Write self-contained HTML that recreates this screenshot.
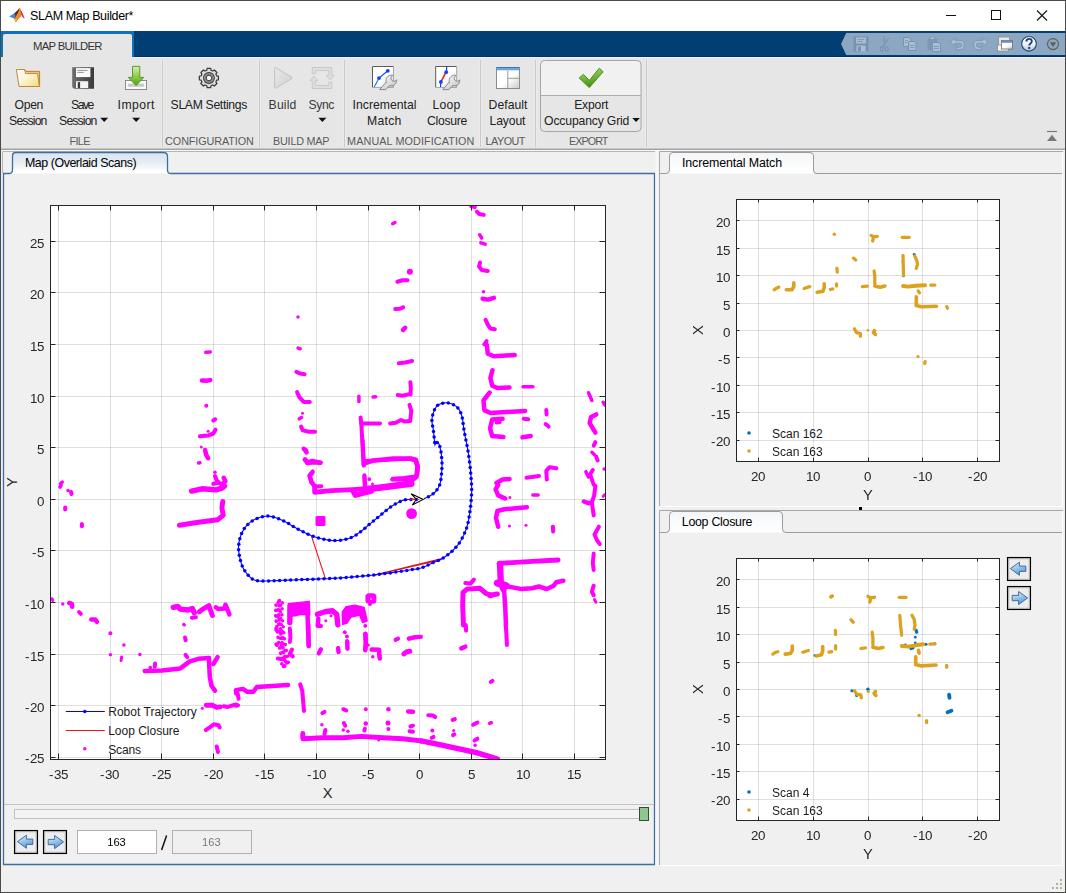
<!DOCTYPE html>
<html><head><meta charset="utf-8"><title>SLAM Map Builder</title>
<style>
html,body{margin:0;padding:0;}
body{width:1066px;height:893px;overflow:hidden;background:#f0f0f0;font-family:"Liberation Sans",sans-serif;position:relative;color:#1a1a1a;}
.abs{position:absolute;}
.t{position:absolute;white-space:nowrap;line-height:1;}
.g{will-change:transform;}
#titlebar{left:0;top:0;width:1066px;height:31px;background:#fff;}
#blue{left:0;top:31px;width:1066px;height:26px;background:#003e73;box-shadow:inset 0 -1px 0 #00336a;}
#blueline{left:1px;top:31px;width:133px;height:26px;background:#0b72bd;}
#maptab{left:3px;top:34px;width:129px;height:23px;background:#e6e6e6;border-radius:2px 2px 0 0;}
#strip{left:0;top:57px;width:1066px;height:91px;background:#e6e6e6;}
.lbl{position:absolute;white-space:nowrap;font-size:12.6px;line-height:16px;text-align:center;color:#222;letter-spacing:-0.1px;}
.sec{position:absolute;white-space:nowrap;font-size:11.4px;line-height:12px;text-align:center;color:#555;top:135px;letter-spacing:0.15px;}
.vsep{position:absolute;top:60px;width:1px;height:87px;background:#c9c9c9;box-shadow:1px 0 0 #ebebeb,-1px 0 0 #ebebeb;}
.tick{position:absolute;white-space:nowrap;font-size:13.3px;line-height:14px;color:#262626;}
</style></head><body>
<div id="titlebar" class="abs"></div>
<div class="t" style="left:30.10px;top:10.12px;font-size:12.5px;letter-spacing:-0.361px;color:#000;font-weight:400;">SLAM Map Builder*</div>
<div id="blue" class="abs"></div><div id="blueline" class="abs"></div><div id="maptab" class="abs"></div>
<div class="t" style="left:33.10px;top:41.43px;font-size:11.3px;letter-spacing:-0.709px;color:#333;font-weight:400;">MAP BUILDER</div>
<div id="strip" class="abs"></div>
<div class="abs" style="left:134px;top:57px;width:931px;height:1px;background:#f4f2f0"></div>
<div class="abs" style="left:0;top:148px;width:1066px;height:1px;background:#c8c8c8"></div>
<div class="abs" style="left:0;top:149px;width:1066px;height:1px;background:#a0a0a0"></div>
<div class="abs" style="left:0;top:150px;width:1066px;height:1px;background:#fafafa"></div>
<div class="t" style="left:14.60px;top:98.67px;font-size:12.2px;letter-spacing:-0.343px;color:#222;font-weight:400;">Open</div>
<div class="t" style="left:9.10px;top:114.67px;font-size:12.2px;letter-spacing:-0.843px;color:#222;font-weight:400;">Session</div>
<div class="t" style="left:71.10px;top:98.67px;font-size:12.2px;letter-spacing:-1.494px;color:#222;font-weight:400;">Save</div>
<div class="t" style="left:59.10px;top:114.67px;font-size:12.2px;letter-spacing:-0.843px;color:#222;font-weight:400;">Session</div>
<div class="t" style="left:117.60px;top:98.67px;font-size:12.2px;letter-spacing:0.451px;color:#222;font-weight:400;">Import</div>
<div class="t" style="left:170.60px;top:98.67px;font-size:12.2px;letter-spacing:-0.319px;color:#222;font-weight:400;">SLAM Settings</div>
<div class="t" style="left:268.60px;top:98.67px;font-size:12.2px;letter-spacing:0.173px;color:#3a3a3a;font-weight:400;">Build</div>
<div class="t" style="left:308.60px;top:98.67px;font-size:12.2px;letter-spacing:-0.436px;color:#3a3a3a;font-weight:400;">Sync</div>
<div class="t" style="left:352.60px;top:98.67px;font-size:12.2px;letter-spacing:0.011px;color:#222;font-weight:400;">Incremental</div>
<div class="t" style="left:367.10px;top:114.67px;font-size:12.2px;letter-spacing:0.274px;color:#222;font-weight:400;">Match</div>
<div class="t" style="left:432.60px;top:98.67px;font-size:12.2px;letter-spacing:0.225px;color:#222;font-weight:400;">Loop</div>
<div class="t" style="left:427.10px;top:114.67px;font-size:12.2px;letter-spacing:-0.283px;color:#222;font-weight:400;">Closure</div>
<div class="t" style="left:488.60px;top:98.67px;font-size:12.2px;letter-spacing:0.029px;color:#222;font-weight:400;">Default</div>
<div class="t" style="left:489.60px;top:114.67px;font-size:12.2px;letter-spacing:-0.159px;color:#222;font-weight:400;">Layout</div>
<div class="t" style="left:574.20px;top:98.67px;font-size:12.2px;letter-spacing:-0.207px;color:#222;font-weight:400;">Export</div>
<div class="t" style="left:544.10px;top:114.67px;font-size:12.2px;letter-spacing:-0.161px;color:#222;font-weight:400;">Occupancy Grid</div>
<div class="t" style="left:69.60px;top:136.36px;font-size:10.8px;letter-spacing:-0.671px;color:#5a5a5a;font-weight:400;">FILE</div>
<div class="t" style="left:165.10px;top:136.36px;font-size:10.8px;letter-spacing:-0.082px;color:#5a5a5a;font-weight:400;">CONFIGURATION</div>
<div class="t" style="left:273.10px;top:136.36px;font-size:10.8px;letter-spacing:-0.238px;color:#5a5a5a;font-weight:400;">BUILD MAP</div>
<div class="t" style="left:347.10px;top:136.36px;font-size:10.8px;letter-spacing:0.107px;color:#5a5a5a;font-weight:400;">MANUAL MODIFICATION</div>
<div class="t" style="left:485.60px;top:136.36px;font-size:10.8px;letter-spacing:-0.521px;color:#5a5a5a;font-weight:400;">LAYOUT</div>
<div class="t" style="left:569.10px;top:136.36px;font-size:10.8px;letter-spacing:-0.981px;color:#5a5a5a;font-weight:400;">EXPORT</div>
<div class="vsep" style="left:162px"></div>
<div class="vsep" style="left:259px"></div>
<div class="vsep" style="left:344px"></div>
<div class="vsep" style="left:480px"></div>
<div class="vsep" style="left:535px"></div>
<div class="vsep" style="left:646px"></div>
<svg class="abs" style="left:0;top:0" width="1066" height="893" viewBox="0 0 1066 893">
<defs>
<linearGradient id="gfold" x1="0" y1="0" x2="1" y2="1"><stop offset="0" stop-color="#ffffff"/><stop offset="0.45" stop-color="#fdf6d8"/><stop offset="1" stop-color="#f3d877"/></linearGradient>
<linearGradient id="gflop" x1="0" y1="0" x2="1" y2="0"><stop offset="0" stop-color="#6e6e6e"/><stop offset="0.5" stop-color="#555"/><stop offset="1" stop-color="#3a3a3a"/></linearGradient>
<linearGradient id="ggreen" x1="0" y1="0" x2="0" y2="1"><stop offset="0" stop-color="#d4efb0"/><stop offset="0.5" stop-color="#8fd04a"/><stop offset="1" stop-color="#4f9e1c"/></linearGradient>
<linearGradient id="gchk" x1="0" y1="0" x2="0.3" y2="1"><stop offset="0" stop-color="#b4e070"/><stop offset="1" stop-color="#3f9412"/></linearGradient>
<linearGradient id="gpaper" x1="0" y1="0" x2="1" y2="1"><stop offset="0" stop-color="#ffffff"/><stop offset="0.55" stop-color="#ffffff"/><stop offset="1" stop-color="#c9c9c9"/></linearGradient>
<linearGradient id="gwr" x1="0" y1="0" x2="1" y2="1"><stop offset="0" stop-color="#f6f6f6"/><stop offset="1" stop-color="#c6c6c6"/></linearGradient>
<radialGradient id="ggear" cx="0.5" cy="0.5" r="0.5"><stop offset="0.3" stop-color="#f6f6f6"/><stop offset="0.42" stop-color="#4a4a4a"/><stop offset="0.55" stop-color="#6e6e6e"/><stop offset="0.72" stop-color="#9a9a9a"/><stop offset="0.86" stop-color="#555"/><stop offset="1" stop-color="#2e2e2e"/></radialGradient>
<linearGradient id="gplay" x1="0" y1="0" x2="1" y2="1"><stop offset="0" stop-color="#e9e9e9"/><stop offset="1" stop-color="#cfcfcf"/></linearGradient>
<linearGradient id="ghelp" x1="0" y1="0" x2="0" y2="1"><stop offset="0" stop-color="#ffffff"/><stop offset="0.55" stop-color="#eef3f9"/><stop offset="1" stop-color="#a9c0dc"/></linearGradient>
</defs>
<g><polygon points="9.1,16.6 14,13.5 17.8,10.3 19.2,8 17.5,13 15.5,16.5 14,18.6" fill="#3a8fd8"/><polygon points="14.6,13.2 17.8,10.3 19.5,7.4 19.2,11 17,15 15,18.8 14,18.4 15.5,16" fill="#6d2418"/><polygon points="19.5,7.4 20.6,9 22,14 21,16.5 18.5,19 15.7,22.4 14.3,19.3 17,15 19,10.5" fill="#e68a2a"/><polygon points="20.6,9.2 22.6,13.5 24.7,18.6 22.6,17.2 21.4,14.5" fill="#d61f3c"/><polygon points="14.4,19.4 17,17.8 15.7,22.4" fill="#e9bb34"/></g>
<path d="M946,15.5 H956" stroke="#111" stroke-width="1"/><rect x="991.5" y="10.5" width="9" height="9" fill="none" stroke="#111" stroke-width="1"/><path d="M1037,10.5 L1047,20.5 M1047,10.5 L1037,20.5" stroke="#111" stroke-width="1.1"/>
<polygon points="841,44.1 846.2,33 1065,33 1065,55 846.2,55" fill="#8ba7c1"/>
<g><rect x="853.5" y="36.5" width="15" height="15" fill="#7893af"/><rect x="856" y="37.5" width="10" height="6" fill="#a9bed2"/><rect x="856.5" y="45.5" width="9" height="6" fill="#a9bed2"/><rect x="858" y="46.5" width="3" height="5" fill="#7893af"/><path d="M857.5,39.5h7M857.5,41.5h5" stroke="#7893af" stroke-width="0.8"/></g>
<g stroke="#7893af" fill="none" stroke-width="1.1"><path d="M884.3,36.5 L884.6,46 M888.6,38 L882.5,47"/><ellipse cx="881.8" cy="49" rx="1.5" ry="2.3"/><ellipse cx="886.8" cy="49" rx="1.5" ry="2.3"/></g>
<g><path d="M903.5,37.5 h5.5 l2,2 v7 h-7.5 z" fill="#a9bed2" stroke="#7893af" stroke-width="1"/><path d="M908.5,41.5 h5.5 l2,2 v7 h-7.5 z" fill="#a9bed2" stroke="#7893af" stroke-width="1"/><path d="M910,45.5h4.5M910,47.5h4.5M905,40.5h3M905,42.5h2" stroke="#7893af" stroke-width="0.8"/></g>
<g><rect x="927.5" y="38.5" width="10" height="11.5" fill="#7893af" opacity="0.75"/><rect x="930.5" y="36.8" width="4" height="2.6" fill="#a9bed2" stroke="#7893af" stroke-width="0.8"/><path d="M932.5,42.5 h6 l2,2 v7 h-8 z" fill="#a9bed2" stroke="#7893af" stroke-width="1"/><path d="M934,46.5h5M934,48.5h5" stroke="#7893af" stroke-width="0.8"/></g>
<path d="M950,42 L955,37.8 V40.3 H960 Q964.3,40.3 964.3,44.8 Q964.3,49.8 960,49.8 H956.5 V47.2 H959.6 Q961.6,47.2 961.6,45 Q961.6,43.2 959.6,43.2 H955 V46 Z" fill="#a9bed2" stroke="#7893af" stroke-width="0.9" stroke-linejoin="round"/>
<path d="M988,42 L983,37.8 V40.3 H978 Q973.7,40.3 973.7,44.8 Q973.7,49.8 978,49.8 H981.5 V47.2 H978.4 Q976.4,47.2 976.4,45 Q976.4,43.2 978.4,43.2 H983 V46 Z" fill="#a9bed2" stroke="#7893af" stroke-width="0.9" stroke-linejoin="round"/>
<g><rect x="998.5" y="37" width="11" height="9" fill="#e8e8e8" stroke="#8a8a8a" stroke-width="0.8"/><rect x="997.5" y="45" width="11" height="6" fill="#f4f4f4" stroke="#8a8a8a" stroke-width="0.8"/><rect x="1001.5" y="40.5" width="11" height="8.5" fill="url(#gpaper)" stroke="#6a6a6a" stroke-width="0.8"/><rect x="1002" y="41" width="10" height="1.8" fill="#5b95d0"/></g>
<circle cx="1029" cy="43.8" r="7.3" fill="url(#ghelp)" stroke="#27466e" stroke-width="1.1"/><path d="M1026.4,41.6 Q1026.4,38.9 1029.1,38.9 Q1031.8,38.9 1031.8,41.3 Q1031.8,42.8 1030.3,43.7 Q1029.2,44.4 1029.2,45.6" fill="none" stroke="#1d3f73" stroke-width="1.9"/><rect x="1028.2" y="46.9" width="2" height="2" fill="#1d3f73"/>
<circle cx="1053" cy="44.1" r="5.5" fill="none" stroke="#5e5e5e" stroke-width="1.1"/><polygon points="1049.8,42.3 1056.2,42.3 1053,46.9" fill="#5e5e5e"/>
<path d="M1047,131.5 H1057" stroke="#787878" stroke-width="1.2"/><polygon points="1047,141 1057,141 1052,134.8" fill="#787878"/>
<path d="M24.7,69.4 L25.8,71.4 H39.6 V86.5 H36" fill="#e8c878" stroke="#b9812f" stroke-width="1"/><path d="M16.3,69.5 H24.6 L25.6,73.6 H37.6 L39.4,86.5 H19.1 Z" fill="url(#gfold)" stroke="#c08a3a" stroke-width="1" stroke-linejoin="round"/>
<path d="M72.2,67.2 H94 V88.8 H74 L72.2,87 Z" fill="url(#gflop)"/><rect x="76" y="68.1" width="14.4" height="9" fill="#fbfbfb"/><path d="M77.3,70.4h10.2M77.3,72.4h6.5" stroke="#8a8a8a" stroke-width="0.9"/><rect x="76" y="81.2" width="12.2" height="6.8" fill="#f4f4f4"/><rect x="77.8" y="82.1" width="2.3" height="5.9" fill="#3a3a3a"/>
<rect x="125.5" y="80.5" width="21" height="9" fill="#fafafa" stroke="#8c8c8c" stroke-width="1"/><rect x="127.8" y="83.6" width="16.4" height="3.2" fill="#c9c9c9"/><path d="M132.5,66.4 H139.8 V77.4 H143.8 L136.1,85.6 L128.3,77.4 H132.5 Z" fill="url(#ggreen)" stroke="#4e9422" stroke-width="0.9" stroke-linejoin="round"/>
<polygon points="216.61,75.87 218.43,76.17 218.43,79.83 216.61,80.13 215.86,81.94 216.93,83.44 214.34,86.03 212.84,84.96 211.03,85.71 210.73,87.53 207.07,87.53 206.77,85.71 204.96,84.96 203.46,86.03 200.87,83.44 201.94,81.94 201.19,80.13 199.37,79.83 199.37,76.17 201.19,75.87 201.94,74.06 200.87,72.56 203.46,69.97 204.96,71.04 206.77,70.29 207.07,68.47 210.73,68.47 211.03,70.29 212.84,71.04 214.34,69.97 216.93,72.56 215.86,74.06" fill="#dedede" stroke="#3c3c3c" stroke-width="1.25" stroke-linejoin="round"/><circle cx="208.9" cy="78" r="5.9" fill="url(#ggear)"/>
<path d="M274.6,68.4 Q274.6,67 275.9,67.8 L291.9,77.2 Q292.9,77.9 291.9,78.6 L275.9,88.1 Q274.6,88.9 274.6,87.5 Z" fill="url(#gplay)" stroke="#c2c2c2" stroke-width="1"/>
<path d="M312.3,73.6 V67.5 H331.8 V75.2 H333.9 L330.2,79.9 L326.5,75.2 H328.8 V70.5 H315.3 V73.6 Z" fill="#dedede" stroke="#c6c6c6" stroke-width="0.9"/><path d="M331.8,82.1 V88.5 H312.3 V80.7 H310.1 L313.9,76 L317.7,80.7 H315.3 V85.5 H328.8 V82.1 Z" fill="#dedede" stroke="#c6c6c6" stroke-width="0.9"/>
<rect x="372.5" y="66.5" width="21" height="21" fill="url(#gpaper)"/><path d="M372.5,87.5 V66.5 H393.5" fill="none" stroke="#5a5a5a" stroke-width="1"/><path d="M393.5,66.5 V87.5 H372.5" fill="none" stroke="#a9a9a9" stroke-width="1"/><path d="M374.2,87 L379,78.1" stroke="#2f7fe6" stroke-width="1.2"/><path d="M379,78.1 L387.8,70.8" stroke="#1044ee" stroke-width="1.2"/><circle cx="379" cy="78.1" r="1.9" fill="#1044ee"/><circle cx="387.8" cy="70.8" r="1.9" fill="#1044ee"/><path d="M379.6,89.6 L386.6,81.6 L390.2,85.2 L385.6,89.6 Z" fill="url(#gwr)" stroke="#7e7e7e" stroke-width="0.9" stroke-linejoin="round"/><path d="M396.55,79.79 L396.60,80.70 L396.48,81.61 L396.22,82.48 L395.81,83.29 L395.27,84.02 L394.61,84.64 L393.85,85.15 L393.02,85.51 L392.13,85.73 L391.23,85.80 L390.32,85.71 L389.45,85.47 L388.62,85.08 L387.88,84.55 L387.24,83.91 L386.72,83.16 L386.33,82.34 L386.09,81.46 L386.00,80.56 L386.07,79.65 L386.29,78.77 L386.66,77.94 L387.17,77.18 L387.79,76.53 L388.53,75.98 L389.34,75.58 L390.21,75.31 L391.11,75.20 L392.02,75.25 L392.91,75.45 L392.28,75.78 L391.74,76.25 L391.34,76.84 L391.08,77.50 L390.98,78.20 L391.06,78.91 L391.29,79.58 L391.68,80.18 L392.20,80.67 L392.82,81.02 L393.51,81.21 L394.22,81.24 L394.91,81.10 L395.56,80.80 L396.12,80.36Z" fill="url(#gwr)" stroke="#7e7e7e" stroke-width="0.9" stroke-linejoin="round"/><path d="M386.6,83.0 L389.0,85.4" stroke="#dedede" stroke-width="2.6"/>
<rect x="435.7" y="66.5" width="21" height="21" fill="url(#gpaper)"/><path d="M435.7,87.5 V66.5 H456.7" fill="none" stroke="#5a5a5a" stroke-width="1"/><path d="M456.7,66.5 V87.5 H435.7" fill="none" stroke="#a9a9a9" stroke-width="1"/><path d="M446.6,66.6 V72" stroke="#1044ee" stroke-width="1.2"/><path d="M446.1,72.2 L440.9,81.9" stroke="#f01818" stroke-width="1.5"/><path d="M440.8,82 L440.5,87" stroke="#1044ee" stroke-width="1.2"/><circle cx="446.2" cy="72.2" r="1.9" fill="#1044ee"/><circle cx="440.9" cy="81.9" r="1.9" fill="#1044ee"/><path d="M442.8,89.6 L449.8,81.6 L453.4,85.2 L448.8,89.6 Z" fill="url(#gwr)" stroke="#7e7e7e" stroke-width="0.9" stroke-linejoin="round"/><path d="M459.75,79.79 L459.80,80.70 L459.68,81.61 L459.42,82.48 L459.01,83.29 L458.47,84.02 L457.81,84.64 L457.05,85.15 L456.22,85.51 L455.33,85.73 L454.43,85.80 L453.52,85.71 L452.65,85.47 L451.82,85.08 L451.08,84.55 L450.44,83.91 L449.92,83.16 L449.53,82.34 L449.29,81.46 L449.20,80.56 L449.27,79.65 L449.49,78.77 L449.86,77.94 L450.37,77.18 L450.99,76.53 L451.73,75.98 L452.54,75.58 L453.41,75.31 L454.31,75.20 L455.22,75.25 L456.11,75.45 L455.48,75.78 L454.94,76.25 L454.54,76.84 L454.28,77.50 L454.18,78.20 L454.26,78.91 L454.49,79.58 L454.88,80.18 L455.40,80.67 L456.02,81.02 L456.71,81.21 L457.42,81.24 L458.11,81.10 L458.76,80.80 L459.32,80.36Z" fill="url(#gwr)" stroke="#7e7e7e" stroke-width="0.9" stroke-linejoin="round"/><path d="M449.8,83.0 L452.2,85.4" stroke="#dedede" stroke-width="2.6"/>
<rect x="496.5" y="67.5" width="23" height="21" fill="url(#gpaper)" stroke="#8c8c8c" stroke-width="1"/><rect x="497" y="68" width="22" height="2.3" fill="#6ea6dc"/><path d="M496.5,67.5H519.5" stroke="#3f76b6" stroke-width="1"/><path d="M507.8,70.5V88M507.8,78.3H519.5" stroke="#9a9a9a" stroke-width="1"/>
<path d="M540.5,95 V64.5 Q540.5,60.5 544.5,60.5 H637 Q641,60.5 641,64.5 V95 Z" fill="#f1f1f1"/><rect x="540.5" y="60.5" width="100.5" height="71" rx="4" ry="4" fill="none" stroke="#a6a6a6" stroke-width="1"/><path d="M541,95.5H641" stroke="#adadad" stroke-width="1"/><polygon points="579.2,78 583.4,74.4 589.3,80.4 599.3,68.2 603.1,71.8 589.3,87.6" fill="url(#gchk)" stroke="#3c8414" stroke-width="0.9" stroke-linejoin="round"/>
<polygon points="100.2,117.8 108.2,117.8 104.2,122" fill="#111"/><polygon points="132.2,117.8 140.2,117.8 136.2,122" fill="#111"/><polygon points="318.4,117.8 326.4,117.8 322.4,122" fill="#111"/><polygon points="632.3,118 639.9,118 636.1,121.9" fill="#111"/>
</svg>
<svg class="abs" style="left:0;top:0" width="1066" height="893" viewBox="0 0 1066 893">
<defs>
<linearGradient id="tabb" x1="0" y1="0" x2="0" y2="1"><stop offset="0" stop-color="#dbe5ee"/><stop offset="0.45" stop-color="#e4ecf3"/><stop offset="0.9" stop-color="#ffffff"/></linearGradient>
<linearGradient id="tabg" x1="0" y1="0" x2="0" y2="1"><stop offset="0" stop-color="#f3f5f8"/><stop offset="0.6" stop-color="#fbfcfd"/><stop offset="1" stop-color="#ffffff"/></linearGradient>
</defs>
<rect x="0" y="0" width="1066" height="1" fill="#4a4a4a"/><rect x="0" y="0" width="1" height="893" fill="#4a4a4a"/><rect x="1065" y="0" width="1" height="893" fill="#4a4a4a"/><rect x="0" y="892" width="1066" height="1" fill="#4a4a4a"/>
<path d="M2.5,173 V151.5 H655" fill="none" stroke="#b4b4b4" stroke-width="1"/>
<path d="M12.5,173.5 V156 Q12.5,152.5 16,152.5 H163.5 Q167.5,152.5 167.5,156.5 V173.5 Z" fill="url(#tabb)" stroke="none"/>
<path d="M3.5,173.5 H9 Q12.5,173.5 12.5,170 V156 Q12.5,152.5 16,152.5 H163.5 Q167.5,152.5 167.5,156.5 V170 Q167.5,173.5 171,173.5 H654.5 V864.5 H3.5 Z" fill="none" stroke="#3a6ea5" stroke-width="1.3"/>
<rect x="655.5" y="151" width="3" height="715" fill="#f6f6f6"/>
<path d="M659.5,506 V151.5 H1063" fill="none" stroke="#a8a8a8" stroke-width="1"/>
<path d="M1062.5,152 V506.5 H660" fill="none" stroke="#ffffff" stroke-width="1"/>
<path d="M669.5,173.5 V156 Q669.5,152.5 673,152.5 H810 Q813.5,152.5 813.5,156 V173.5 Z" fill="url(#tabg)"/>
<path d="M660,173.5 H666 Q669.5,173.5 669.5,170 V156 Q669.5,152.5 673,152.5 H810 Q813.5,152.5 813.5,156 V170 Q813.5,173.5 817,173.5 H1062" fill="none" stroke="#9c9c9c" stroke-width="1"/>
<path d="M659.5,865 V510.5 H1063" fill="none" stroke="#a8a8a8" stroke-width="1"/>
<path d="M1062.5,511 V865.5 H660" fill="none" stroke="#ffffff" stroke-width="1"/>
<path d="M669.5,532.5 V515 Q669.5,511.5 673,511.5 H779 Q782.5,511.5 782.5,515 V532.5 Z" fill="url(#tabg)"/>
<path d="M660,532.5 H666 Q669.5,532.5 669.5,529 V515 Q669.5,511.5 673,511.5 H779 Q782.5,511.5 782.5,515 V529 Q782.5,532.5 786,532.5 H1062" fill="none" stroke="#9c9c9c" stroke-width="1"/>
<rect x="859" y="507" width="3" height="3" fill="#000"/>
<rect x="1060" y="879" width="2" height="2" fill="#b8b09a"/><rect x="1056" y="883" width="2" height="2" fill="#b8b09a"/><rect x="1060" y="883" width="2" height="2" fill="#b8b09a"/><rect x="1052" y="887" width="2" height="2" fill="#b8b09a"/><rect x="1056" y="887" width="2" height="2" fill="#b8b09a"/><rect x="1060" y="887" width="2" height="2" fill="#b8b09a"/>
</svg>
<div class="t" style="left:24.90px;top:156.50px;font-size:12.4px;letter-spacing:-0.428px;color:#000;font-weight:400;">Map (Overlaid Scans)</div>
<div class="t" style="left:682.00px;top:156.50px;font-size:12.4px;letter-spacing:-0.114px;color:#000;font-weight:400;">Incremental Match</div>
<div class="t" style="left:681.80px;top:515.50px;font-size:12.4px;letter-spacing:-0.282px;color:#000;font-weight:400;">Loop Closure</div>
<svg class="abs" style="left:0;top:0" width="1066" height="893" viewBox="0 0 1066 893">
<defs><clipPath id="cm"><rect x="51" y="206" width="554" height="553"/></clipPath></defs>
<rect x="50" y="205" width="555" height="554" fill="#fff"/>
<path d="M58.5,205V759M110.5,205V759M161.5,205V759M213.5,205V759M264.5,205V759M316.5,205V759M368.5,205V759M419.5,205V759M471.5,205V759M522.5,205V759M574.5,205V759" stroke="#262626" stroke-opacity="0.15" stroke-width="1" fill="none"/><path d="M50,757.5H605M50,705.5H605M50,654.5H605M50,602.5H605M50,550.5H605M50,499.5H605M50,447.5H605M50,396.5H605M50,344.5H605M50,292.5H605M50,241.5H605" stroke="#262626" stroke-opacity="0.15" stroke-width="1" fill="none"/>
<g clip-path="url(#cm)">
<g stroke="#ff00ff" fill="none" stroke-linecap="round" stroke-linejoin="round">
<path d="M392.7,223.7 L395.0,222.5" stroke-width="3.50"/><circle cx="409.9" cy="271.8" r="3.00" fill="#ff00ff" stroke="none"/><path d="M397.4,281.7 L402.3,280.3 L407.5,280.3" stroke-width="4.05"/><path d="M395.3,309.1 L400.0,308.8 L403.1,307.4" stroke-width="4.00"/><path d="M403.0,330.0 L405.2,327.9" stroke-width="4.50"/><circle cx="298.0" cy="316.9" r="1.75" fill="#ff00ff" stroke="none"/>
<path d="M471.3,206.4 L474.8,207.1" stroke-width="4.00"/><path d="M476.9,211.6 L479.1,214.0 L483.8,214.9" stroke-width="4.00"/><path d="M479.7,234.8 L481.7,238.0" stroke-width="3.50"/><path d="M480.9,242.8 L485.2,244.2" stroke-width="3.50"/><path d="M480.0,262.6 L479.1,266.6 L481.7,269.9 L487.8,270.9" stroke-width="4.05"/><circle cx="483.5" cy="291.8" r="1.75" fill="#ff00ff" stroke="none"/><path d="M482.6,298.7 L487.8,299.6 L493.9,297.8" stroke-width="4.50"/><path d="M485.6,319.9 L487.8,324.7 L490.4,328.6 L494.8,329.3" stroke-width="4.05"/><path d="M484.3,344.4 L486.6,341.2" stroke-width="4.00"/>
<path d="M205.8,352.3 L210.3,351.9" stroke-width="3.50"/><path d="M202.0,380.6 L206.3,380.8 L210.3,380.1" stroke-width="4.50"/><circle cx="206.3" cy="405.7" r="2.00" fill="#ff00ff" stroke="none"/><path d="M213.3,420.5 L215.2,419.3" stroke-width="4.05"/><path d="M199.9,436.3 L208.1,435.6 L213.3,433.5 L215.5,429.7" stroke-width="4.05"/><circle cx="208.1" cy="431.3" r="1.50" fill="#ff00ff" stroke="none"/><circle cx="201.3" cy="446.9" r="1.50" fill="#ff00ff" stroke="none"/><path d="M205.1,450.0 L206.3,455.2 L208.1,458.2" stroke-width="4.50"/><path d="M198.5,463.0 L199.9,462.7" stroke-width="3.50"/><circle cx="215.0" cy="472.2" r="1.75" fill="#ff00ff" stroke="none"/><path d="M215.0,476.0 L216.7,480.4 L220.2,483.8" stroke-width="4.00"/><path d="M223.7,477.8 L225.4,481.2 L221.9,484.7" stroke-width="4.50"/><path d="M213.3,483.8 L217.6,483.0" stroke-width="4.00"/><path d="M60.5,483.8 L62.3,482.1" stroke-width="3.50"/>
<path d="M298.1,348.1 L300.2,348.8" stroke-width="3.50"/><path d="M296.4,371.9 L300.2,373.6 L304.6,374.2" stroke-width="4.00"/><path d="M297.1,392.2 L299.3,397.1 L303.7,401.9 L309.8,401.9" stroke-width="4.05"/><circle cx="302.5" cy="413.2" r="1.50" fill="#ff00ff" stroke="none"/><path d="M299.3,418.8 L301.6,417.5" stroke-width="3.50"/><path d="M301.1,426.6 L302.8,430.4 L308.9,431.8 L315.0,431.8" stroke-width="4.05"/><path d="M304.0,449.1 L306.3,452.3" stroke-width="4.00"/><path d="M305.4,459.5 L307.2,463.0 L314.1,462.3 L320.2,462.7" stroke-width="4.50"/><path d="M312.4,472.6 L309.8,476.0 L311.5,482.1 L314.1,485.1" stroke-width="4.50"/><path d="M358.9,396.2 L358.9,401.4" stroke-width="3.50"/><path d="M373.1,397.1 L375.7,396.7" stroke-width="3.50"/><path d="M360.6,417.5 L361.3,423.1 L363.6,464.7" stroke-width="4.00"/><path d="M361.3,423.4 L380.0,423.4" stroke-width="4.00"/><path d="M363.6,464.7 L365.3,460.9 L392.2,459.5 L409.5,458.7" stroke-width="4.00"/><path d="M409.5,458.7 L415.6,460.4 L417.4,466.5 L416.5,476.9 L413.0,479.5" stroke-width="4.50"/><path d="M413.0,479.5 L392.2,479.5" stroke-width="4.00"/><path d="M364.4,475.2 L365.3,485.1" stroke-width="4.00"/><circle cx="369.6" cy="479.5" r="1.50" fill="#ff00ff" stroke="none"/><path d="M398.8,363.2 L405.2,362.4 L412.1,361.0" stroke-width="4.05"/><path d="M410.4,382.3 L410.9,388.4 L410.4,394.5" stroke-width="4.00"/><path d="M397.7,395.0 L402.6,395.7 L410.4,393.9" stroke-width="4.00"/><path d="M409.5,404.9 L411.3,410.9 L410.4,419.6" stroke-width="4.00"/><path d="M390.1,423.4 L395.7,422.7 L400.9,420.0 L404.3,421.4 L410.4,421.0" stroke-width="4.00"/>
<path d="M486.9,345.0 L487.8,353.7 L493.9,356.3 L514.7,355.1" stroke-width="4.50"/><path d="M492.5,370.2 L490.4,378.0 L492.2,385.8 L497.4,388.0 L509.5,387.5" stroke-width="4.50"/><path d="M523.0,386.7 L532.9,386.7" stroke-width="3.50"/><path d="M489.6,392.7 L483.5,400.5 L484.3,410.1 L490.4,413.0 L525.1,410.9" stroke-width="4.50"/><path d="M502.6,418.8 L492.2,419.6 L490.1,428.3 L492.2,436.1 L503.4,437.0" stroke-width="4.50"/><path d="M496.5,422.7 L500.0,422.2" stroke-width="3.50"/><path d="M523.7,418.8 L528.3,419.3" stroke-width="4.00"/><path d="M522.5,437.3 L530.7,436.1" stroke-width="4.50"/><path d="M546.3,410.1 L546.6,414.4" stroke-width="4.00"/><path d="M545.6,424.0 L548.6,426.6" stroke-width="4.00"/><path d="M588.5,392.7 L591.9,400.5" stroke-width="3.50"/><path d="M603.2,402.3 L605.0,404.9" stroke-width="3.50"/><path d="M596.3,414.4 L591.1,417.0 L589.7,423.1 L592.8,428.3 L595.4,432.6" stroke-width="4.50"/><path d="M595.4,442.2 L593.7,445.7" stroke-width="4.00"/><path d="M591.9,452.3 L594.5,454.7" stroke-width="3.50"/><path d="M596.3,456.9 L597.7,460.4" stroke-width="4.00"/><circle cx="604.1" cy="469.1" r="1.75" fill="#ff00ff" stroke="none"/><path d="M592.8,470.0 L590.2,474.3 L591.9,479.5 L593.7,484.7" stroke-width="4.00"/><path d="M585.9,471.7 L588.5,476.9" stroke-width="3.50"/><path d="M556.4,468.2 L549.4,467.3 L546.3,470.8 L546.8,479.5" stroke-width="4.05"/><path d="M526.5,477.8 L532.1,476.9 L539.0,476.0" stroke-width="4.00"/><path d="M496.5,483.0 L502.6,479.5 L509.5,479.0" stroke-width="4.50"/>
<path d="M60.0,487.1 L61.1,485.3" stroke-width="3.50"/><circle cx="68.0" cy="490.6" r="1.75" fill="#ff00ff" stroke="none"/><path d="M71.0,491.9 L71.5,494.0" stroke-width="4.00"/><path d="M65.2,507.6 L65.2,509.6" stroke-width="4.00"/><path d="M81.9,524.0 L81.9,526.3" stroke-width="4.00"/><path d="M191.6,491.1 L202.0,488.8 L215.9,489.9 L221.9,488.1 L224.5,485.9" stroke-width="5.40"/><path d="M222.8,501.5 L221.9,507.6 L223.2,515.4 L217.6,519.7 L198.5,522.3 L179.4,525.3" stroke-width="4.95"/><circle cx="62.8" cy="603.9" r="1.75" fill="#ff00ff" stroke="none"/><path d="M69.2,603.0 L71.8,603.9 L72.2,606.8" stroke-width="4.50"/><path d="M79.1,612.0 L80.8,613.8" stroke-width="4.00"/><path d="M91.3,619.5 L95.3,619.5 L97.0,621.8" stroke-width="4.50"/><path d="M51.9,598.7 L52.7,600.4" stroke-width="3.00"/><path d="M173.3,607.3 L177.7,606.5 L180.3,609.1 L188.1,610.0 L192.4,608.6 L194.2,612.6" stroke-width="5.40"/><path d="M191.9,617.8 L195.9,617.2" stroke-width="4.00"/><path d="M199.4,611.7 L203.7,608.6 L208.9,605.6 L211.0,611.7 L212.4,615.5" stroke-width="4.95"/><path d="M215.9,607.3 L218.5,609.1 L224.5,608.6 L225.4,604.7 L227.7,610.0 L229.4,614.3" stroke-width="4.50"/><circle cx="183.8" cy="624.4" r="1.75" fill="#ff00ff" stroke="none"/>
<path d="M498.2,485.0 L495.6,489.3 L498.2,495.4 L505.2,498.5" stroke-width="4.50"/><circle cx="509.9" cy="497.5" r="1.50" fill="#ff00ff" stroke="none"/><path d="M532.9,495.1 L538.1,495.1" stroke-width="3.50"/><path d="M526.9,507.2 L504.3,509.3 L497.4,511.0 L496.0,518.0 L498.2,526.7" stroke-width="4.50"/><circle cx="509.5" cy="526.1" r="1.50" fill="#ff00ff" stroke="none"/><circle cx="526.0" cy="525.3" r="1.50" fill="#ff00ff" stroke="none"/><path d="M552.9,526.7 L553.2,531.5" stroke-width="4.05"/><path d="M595.4,485.9 L594.2,495.4 L591.9,502.4 L592.8,509.3 L593.7,515.4" stroke-width="4.05"/><path d="M583.8,501.5 L588.5,503.2 L591.9,502.4" stroke-width="4.50"/><path d="M603.2,496.3 L605.0,494.5" stroke-width="3.00"/><path d="M598.9,526.7 L594.5,534.5 L597.1,540.5 L599.8,544.0" stroke-width="4.00"/><path d="M593.7,553.6 L592.8,563.1 L593.7,570.0" stroke-width="4.00"/><path d="M593.7,585.7 L591.9,591.7 L593.7,595.2" stroke-width="4.05"/><path d="M594.5,599.5 L595.9,602.1" stroke-width="3.00"/><path d="M558.1,560.0 L532.1,561.4 L499.1,563.4" stroke-width="4.95"/><path d="M500.0,564.0 L500.8,582.2 L503.4,589.1" stroke-width="6.30"/><path d="M497.4,583.1 L506.0,585.7" stroke-width="7.20"/><path d="M504.0,589.1 L505.2,606.5 L506.0,625.1" stroke-width="4.50"/><path d="M507.8,586.5 L521.7,589.1 L532.1,588.3 L539.0,586.5 L546.8,589.1 L553.8,585.7 L556.4,582.2 L563.3,580.8" stroke-width="4.50"/><path d="M465.3,583.1 L470.5,583.6 L473.9,579.6" stroke-width="4.00"/><path d="M463.5,625.1 L462.7,606.5 L463.0,592.6 L467.0,589.1 L480.0,588.3 L486.1,593.5 L490.4,595.2 L497.4,594.0" stroke-width="4.95"/><circle cx="490.4" cy="595.2" r="3.00" fill="#ff00ff" stroke="none"/>
<circle cx="110.4" cy="633.3" r="2.00" fill="#ff00ff" stroke="none"/><circle cx="123.9" cy="645.0" r="1.75" fill="#ff00ff" stroke="none"/><circle cx="110.4" cy="654.8" r="1.75" fill="#ff00ff" stroke="none"/><path d="M121.6,657.1 L121.1,660.6" stroke-width="3.00"/><circle cx="139.9" cy="654.5" r="1.75" fill="#ff00ff" stroke="none"/><circle cx="184.3" cy="625.0" r="1.50" fill="#ff00ff" stroke="none"/><path d="M185.0,637.5 L185.7,640.3" stroke-width="4.00"/><path d="M185.5,654.8 L187.2,657.1" stroke-width="4.00"/><path d="M155.1,663.5 L154.8,666.7" stroke-width="4.00"/><path d="M144.7,671.0 L162.1,670.5 L180.3,668.4 L189.8,661.4 L198.5,658.8 L208.9,658.0" stroke-width="4.50"/><circle cx="150.3" cy="667.5" r="1.75" fill="#ff00ff" stroke="none"/><path d="M208.9,658.0 L209.8,677.1 L211.5,685.7 L215.0,690.6" stroke-width="4.50"/><path d="M217.6,657.1 L215.0,661.4 L213.3,664.0" stroke-width="4.50"/><path d="M235.3,690.1 L235.7,694.1" stroke-width="3.00"/><circle cx="202.3" cy="708.3" r="1.50" fill="#ff00ff" stroke="none"/><path d="M206.3,705.2 L212.4,705.2 L216.7,707.4 L220.2,706.9" stroke-width="4.95"/><path d="M223.7,706.2 L228.0,706.9 L233.2,705.2 L236.0,704.5" stroke-width="4.05"/><path d="M205.8,730.0 L209.8,727.4 L213.8,724.3 L218.5,725.3 L219.7,727.4" stroke-width="4.05"/><path d="M216.7,746.5 L218.0,752.0" stroke-width="4.00"/>
<path d="M308.5,625.0 L308.5,645.8" stroke-width="4.05"/><path d="M317.6,625.9 L321.0,625.9" stroke-width="4.00"/><circle cx="337.5" cy="625.5" r="1.75" fill="#ff00ff" stroke="none"/><circle cx="365.3" cy="625.9" r="1.75" fill="#ff00ff" stroke="none"/><circle cx="345.0" cy="632.3" r="1.75" fill="#ff00ff" stroke="none"/><circle cx="347.1" cy="636.8" r="1.75" fill="#ff00ff" stroke="none"/><path d="M347.1,641.0 L347.4,648.4" stroke-width="4.00"/><path d="M365.3,633.7 L365.8,642.4 L365.3,650.2" stroke-width="4.50"/><path d="M321.0,649.3 L319.0,653.1" stroke-width="4.05"/><path d="M338.0,648.4 L338.7,651.9" stroke-width="4.00"/><path d="M395.7,639.8 L398.3,638.5" stroke-width="3.50"/><path d="M408.7,638.5 L414.8,637.1 L421.0,636.8" stroke-width="4.00"/><path d="M236.0,690.1 L242.9,688.9 L247.3,691.8 L253.4,691.8 L256.8,687.1 L288.1,684.9" stroke-width="4.50"/><path d="M237.7,693.6 L238.6,698.8" stroke-width="4.00"/><path d="M236.0,705.7 L238.1,705.2" stroke-width="4.00"/><path d="M300.2,684.4 L302.3,690.9 L303.3,703.1 L304.0,710.9" stroke-width="4.05"/><path d="M322.4,713.2 L324.5,711.8" stroke-width="4.00"/><circle cx="321.9" cy="724.8" r="1.75" fill="#ff00ff" stroke="none"/><path d="M325.4,730.0 L324.5,734.0" stroke-width="4.05"/><path d="M343.3,709.2 L346.2,710.4" stroke-width="4.00"/><path d="M343.9,723.1 L345.3,725.7" stroke-width="4.00"/><circle cx="343.3" cy="730.0" r="1.75" fill="#ff00ff" stroke="none"/><circle cx="347.9" cy="731.2" r="1.75" fill="#ff00ff" stroke="none"/><circle cx="365.8" cy="709.2" r="2.00" fill="#ff00ff" stroke="none"/><circle cx="365.8" cy="723.6" r="2.25" fill="#ff00ff" stroke="none"/><path d="M364.8,728.8 L364.4,730.5" stroke-width="4.05"/><circle cx="388.4" cy="709.2" r="2.25" fill="#ff00ff" stroke="none"/><circle cx="388.0" cy="723.1" r="2.50" fill="#ff00ff" stroke="none"/><circle cx="388.4" cy="729.1" r="2.00" fill="#ff00ff" stroke="none"/><path d="M408.2,711.4 L413.0,711.8" stroke-width="4.50"/><path d="M410.4,726.5 L413.0,725.7" stroke-width="4.00"/><path d="M409.5,731.2 L413.0,731.7" stroke-width="4.00"/><path d="M302.8,733.5 L302.8,738.7 L322.8,737.8 L343.6,737.8 L361.0,736.4 L383.5,737.8 L402.6,738.7 L421.0,740.9" stroke-width="4.95"/><circle cx="378.7" cy="739.9" r="1.50" fill="#ff00ff" stroke="none"/>
<path d="M465.8,625.0 L466.1,630.6" stroke-width="4.05"/><path d="M505.7,625.0 L506.4,633.7 L506.9,645.0" stroke-width="4.05"/><path d="M461.3,648.4 L465.3,646.7" stroke-width="4.50"/><path d="M490.8,681.9 L492.5,680.9" stroke-width="4.00"/><path d="M428.3,715.2 L433.1,715.6 L435.2,717.0" stroke-width="4.05"/><path d="M452.6,719.9 L454.8,719.2" stroke-width="4.05"/><path d="M473.1,724.8 L477.4,722.5" stroke-width="4.00"/><path d="M489.6,723.4 L491.3,722.7" stroke-width="3.50"/><circle cx="432.3" cy="730.5" r="2.00" fill="#ff00ff" stroke="none"/><circle cx="453.6" cy="730.5" r="1.50" fill="#ff00ff" stroke="none"/><path d="M453.1,735.2 L454.3,734.3" stroke-width="4.00"/><path d="M431.8,737.8 L433.5,736.9" stroke-width="4.00"/><path d="M474.5,740.4 L477.4,738.7" stroke-width="4.00"/><circle cx="475.1" cy="745.3" r="1.75" fill="#ff00ff" stroke="none"/><path d="M421.0,740.9 L438.4,744.4 L455.7,748.2 L476.5,752.6 L490.4,756.9 L497.4,759.0" stroke-width="5.40"/>
<path d="M289.8,628.5 L290.5,637.5 L289.8,642.0" stroke-width="4.00"/><path d="M292.0,649.5 L289.8,654.0 L292.8,656.3" stroke-width="4.00"/><path d="M277.8,658.5 L283.0,659.3" stroke-width="4.00"/><path d="M276.3,628.5 L276.3,630.0" stroke-width="4.00"/><path d="M276.3,644.3 L277.0,645.0" stroke-width="4.00"/><path d="M290.2,606.0 L289.8,622.5" stroke-width="5.40"/><path d="M307.3,604.5 L307.8,622.5 L308.8,646.2" stroke-width="4.50"/><path d="M317.5,614.3 L325.0,611.7 L332.5,610.8 L336.7,614.3 L337.8,624.8" stroke-width="5.40"/><path d="M318.3,618.8 L317.8,625.2" stroke-width="4.50"/><circle cx="325.8" cy="620.7" r="1.50" fill="#ff00ff" stroke="none"/><circle cx="331.0" cy="615.8" r="1.50" fill="#ff00ff" stroke="none"/><circle cx="365.3" cy="625.8" r="1.75" fill="#ff00ff" stroke="none"/><circle cx="344.5" cy="632.3" r="1.75" fill="#ff00ff" stroke="none"/><circle cx="346.8" cy="636.3" r="1.75" fill="#ff00ff" stroke="none"/><path d="M347.3,641.7 L347.6,648.8" stroke-width="4.00"/><path d="M365.6,633.8 L365.9,645.0 L365.3,649.5" stroke-width="4.05"/><circle cx="368.3" cy="645.0" r="1.50" fill="#ff00ff" stroke="none"/><path d="M320.5,649.5 L318.7,653.3" stroke-width="4.05"/><path d="M338.2,648.0 L338.5,652.2" stroke-width="4.00"/><path d="M371.6,649.5 L379.1,649.8 L379.4,655.5 L379.8,658.5" stroke-width="4.50"/><circle cx="372.8" cy="656.7" r="1.75" fill="#ff00ff" stroke="none"/><path d="M395.6,639.8 L397.8,638.7" stroke-width="4.00"/><path d="M409.1,638.7 L414.3,637.5 L419.6,637.1" stroke-width="4.05"/><path d="M403.8,654.0 L406.8,651.8 L409.8,651.3" stroke-width="4.95"/>
<path d="M303.5,448.5 L306.2,450.2 L306.8,452.5" stroke-width="4.00"/><path d="M304.8,459.7 L308.1,462.3 L312.1,461.0 L320.6,462.6" stroke-width="4.50"/><path d="M312.7,471.5 L309.4,475.5 L311.4,482.0 L314.7,486.6 L321.3,486.2" stroke-width="4.05"/><path d="M314.7,486.6 L314.7,492.3 L331.8,490.6 L352.8,489.6 L363.3,488.9" stroke-width="4.95"/><path d="M352.8,490.6 L355.4,495.2 L363.3,493.2 L371.2,491.2" stroke-width="5.40"/><path d="M364.6,489.4 L379.1,487.7 L394.8,485.8 L411.2,483.6" stroke-width="6.66"/><path d="M362.6,440.0 L363.3,453.1 L363.9,465.6" stroke-width="4.05"/><path d="M363.9,463.6 L373.8,460.4 L393.5,458.6 L410.6,458.4 L415.8,459.7 L417.8,466.3 L417.1,474.1 L413.2,479.4" stroke-width="4.50"/><path d="M392.8,479.0 L404.0,478.3 L413.2,477.0" stroke-width="4.50"/><path d="M364.3,476.1 L364.6,484.7" stroke-width="4.00"/><circle cx="369.2" cy="479.1" r="1.75" fill="#ff00ff" stroke="none"/><circle cx="372.5" cy="484.0" r="1.50" fill="#ff00ff" stroke="none"/>
</g>
<polygon points="288.3,603.8 309.3,601.5 309.7,615.0 301.0,614.3 295.0,615.8 288.3,616.5" fill="#ff00ff" stroke="#ff00ff" stroke-width="1.5" stroke-linejoin="round"/>
<polygon points="342.3,612.0 346.1,606.8 355.1,605.3 364.1,607.5 367.1,621.0 362.6,622.5 359.6,615.0 350.6,617.3 346.8,623.3 342.7,624.3" fill="#ff00ff" stroke="#ff00ff" stroke-width="1.5" stroke-linejoin="round"/>
<path d="M276.1,600.8 L275.6,615.0 L277.1,628.5 L278.6,642.0 L280.4,652.5 L282.5,660.0 L281.3,666.8" stroke="#ff00ff" stroke-width="3.6" stroke-dasharray="0.1 5.3" stroke-dashoffset="-4.2" fill="none" stroke-linecap="round" stroke-linejoin="round"/><path d="M279.3,600.8 L278.8,615.0 L280.3,628.5 L281.8,642.0 L283.6,652.5 L285.7,660.0 L284.5,666.8" stroke="#ff00ff" stroke-width="4.0" stroke-dasharray="0.1 4.6" stroke-dashoffset="0.0" fill="none" stroke-linecap="round" stroke-linejoin="round"/><path d="M282.4,600.8 L281.9,615.0 L283.4,628.5 L284.9,642.0 L286.7,652.5 L288.8,660.0 L287.6,666.8" stroke="#ff00ff" stroke-width="3.4" stroke-dasharray="0.1 5.9" stroke-dashoffset="4.0" fill="none" stroke-linecap="round" stroke-linejoin="round"/><path d="M278.1,600.8 L277.6,615.0 L279.1,628.5 L280.6,642.0 L282.4,652.5 L284.5,660.0 L283.3,666.8" stroke="#ff00ff" stroke-width="3.2" stroke-dasharray="0.1 7.1" stroke-dashoffset="-1.6" fill="none" stroke-linecap="round" stroke-linejoin="round"/><path d="M280.9,600.8 L280.4,615.0 L281.9,628.5 L283.4,642.0 L285.2,652.5 L287.3,660.0 L286.1,666.8" stroke="#ff00ff" stroke-width="3.2" stroke-dasharray="0.1 6.4" stroke-dashoffset="2.1" fill="none" stroke-linecap="round" stroke-linejoin="round"/>
<rect x="315.5" y="515.9" width="10" height="10" rx="1.5" fill="#ff00ff"/>
<circle cx="411.6" cy="513.6" r="5.4" fill="#ff00ff"/>
<rect x="365.4" y="593.2" width="11" height="10.6" rx="3.6" fill="#ff00ff"/><circle cx="371.0" cy="599.1" r="0.9" fill="#fff" fill-opacity="0.8"/><circle cx="370.0" cy="604.0" r="2" fill="#ff00ff"/>

<path d="M311.5,536.2 L325.4,578.7" stroke="#e8121a" stroke-width="1.1" fill="none"/>
<path d="M372.2,575.6 L441.8,558.6 M372.2,575.6 L436,560.8 M376,574.6 L440,559.8" stroke="#e8121a" stroke-width="1.2" fill="none"/>
<path d="M416.5,499.4 L415.8,499.4 L414.9,499.4 L413.8,499.4 L412.6,499.4 L411.3,499.4 L409.9,499.5 L408.6,499.5 L407.4,499.6 L406.2,499.7 L405.2,499.8 L404.3,500.0 L403.6,500.1 L402.9,500.3 L402.3,500.5 L401.6,500.8 L401.0,501.0 L400.4,501.3 L399.8,501.6 L399.1,502.0 L398.3,502.4 L397.5,502.9 L396.6,503.3 L395.6,503.9 L394.7,504.4 L393.7,505.0 L392.7,505.6 L391.7,506.3 L390.7,507.0 L389.7,507.7 L388.7,508.4 L387.7,509.2 L386.7,510.0 L385.6,510.8 L384.6,511.7 L383.5,512.6 L382.4,513.6 L381.4,514.5 L380.3,515.4 L379.3,516.3 L378.3,517.1 L377.3,517.9 L376.3,518.7 L375.4,519.5 L374.4,520.3 L373.5,521.1 L372.6,521.8 L371.6,522.6 L370.7,523.4 L369.8,524.1 L368.8,524.9 L367.8,525.7 L366.9,526.5 L365.9,527.3 L364.9,528.1 L363.9,529.0 L363.0,529.8 L362.0,530.6 L361.1,531.3 L360.1,532.0 L359.2,532.7 L358.3,533.3 L357.5,533.9 L356.7,534.5 L355.9,535.1 L355.1,535.6 L354.2,536.1 L353.4,536.6 L352.5,537.1 L351.5,537.5 L350.5,537.9 L349.4,538.3 L348.1,538.6 L346.9,539.0 L345.5,539.3 L344.2,539.6 L342.8,539.8 L341.4,540.1 L340.1,540.2 L338.8,540.4 L337.5,540.5 L336.3,540.6 L335.2,540.6 L334.1,540.6 L333.0,540.6 L332.0,540.5 L330.9,540.4 L329.8,540.3 L328.7,540.1 L327.5,539.9 L326.2,539.7 L324.9,539.4 L323.5,539.2 L322.0,538.8 L320.6,538.5 L319.1,538.1 L317.6,537.7 L316.0,537.2 L314.5,536.8 L313.0,536.2 L311.5,535.7 L310.0,535.1 L308.5,534.5 L307.0,533.8 L305.5,533.0 L304.0,532.3 L302.6,531.5 L301.1,530.7 L299.6,529.9 L298.1,529.2 L296.7,528.4 L295.3,527.6 L293.9,526.8 L292.5,526.0 L291.1,525.2 L289.7,524.3 L288.4,523.5 L287.0,522.7 L285.7,522.0 L284.3,521.2 L282.9,520.6 L281.5,520.0 L280.1,519.4 L278.7,518.8 L277.3,518.3 L275.8,517.8 L274.4,517.3 L273.0,516.9 L271.7,516.6 L270.3,516.4 L269.0,516.2 L267.7,516.1 L266.4,516.2 L265.1,516.3 L263.9,516.4 L262.6,516.7 L261.4,517.0 L260.2,517.3 L259.0,517.7 L257.9,518.1 L256.8,518.5 L255.7,519.0 L254.7,519.5 L253.6,520.0 L252.6,520.6 L251.7,521.2 L250.7,521.9 L249.8,522.6 L248.9,523.3 L248.1,524.1 L247.3,524.9 L246.5,525.7 L245.8,526.6 L245.1,527.5 L244.4,528.4 L243.8,529.4 L243.2,530.4 L242.7,531.4 L242.1,532.4 L241.7,533.5 L241.2,534.5 L240.8,535.6 L240.4,536.6 L240.1,537.8 L239.7,538.9 L239.5,540.0 L239.2,541.2 L239.0,542.3 L238.8,543.5 L238.7,544.6 L238.6,545.7 L238.5,546.8 L238.5,547.8 L238.5,548.9 L238.6,549.9 L238.7,551.0 L238.8,552.0 L238.9,553.0 L239.1,554.1 L239.3,555.1 L239.5,556.2 L239.7,557.3 L240.0,558.4 L240.3,559.6 L240.6,560.7 L240.9,561.9 L241.2,563.1 L241.6,564.2 L242.0,565.3 L242.4,566.4 L242.9,567.4 L243.4,568.4 L243.9,569.4 L244.5,570.3 L245.1,571.3 L245.7,572.2 L246.4,573.0 L247.0,573.9 L247.7,574.7 L248.3,575.4 L249.0,576.1 L249.6,576.7 L250.3,577.3 L250.9,577.9 L251.6,578.4 L252.2,578.8 L252.9,579.2 L253.6,579.6 L254.4,579.9 L255.2,580.2 L256.0,580.5 L256.9,580.7 L257.7,580.9 L258.5,581.0 L259.4,581.0 L260.3,581.1 L261.3,581.1 L262.3,581.1 L263.5,581.1 L264.9,581.0 L266.4,581.0 L268.0,581.0 L269.8,580.9 L271.6,580.8 L273.5,580.8 L275.6,580.7 L277.8,580.6 L280.1,580.5 L282.6,580.3 L285.2,580.2 L288.1,580.1 L291.3,580.0 L294.8,579.9 L298.6,579.7 L302.6,579.6 L306.6,579.4 L310.7,579.3 L314.7,579.1 L318.6,579.0 L322.2,578.8 L325.4,578.7 L328.3,578.6 L331.0,578.4 L333.5,578.3 L335.8,578.2 L338.0,578.0 L340.2,577.9 L342.3,577.8 L344.4,577.6 L346.6,577.5 L348.8,577.3 L351.1,577.1 L353.4,576.9 L355.7,576.7 L358.0,576.5 L360.3,576.3 L362.5,576.1 L364.8,575.9 L367.0,575.7 L369.2,575.4 L371.4,575.2 L373.6,575.0 L375.7,574.7 L377.9,574.5 L380.0,574.2 L382.1,573.9 L384.2,573.7 L386.3,573.4 L388.3,573.1 L390.3,572.9 L392.2,572.6 L394.1,572.3 L396.0,572.1 L397.8,571.8 L399.7,571.5 L401.4,571.3 L403.2,571.0 L404.8,570.7 L406.5,570.5 L408.0,570.2 L409.5,570.0 L410.9,569.8 L412.2,569.6 L413.4,569.4 L414.6,569.3 L415.7,569.1 L416.8,569.0 L417.8,568.8 L418.9,568.6 L419.9,568.3 L421.0,568.0 L422.1,567.6 L423.2,567.2 L424.2,566.8 L425.2,566.3 L426.3,565.9 L427.3,565.4 L428.3,564.9 L429.3,564.4 L430.4,563.9 L431.4,563.4 L432.4,563.0 L433.5,562.5 L434.5,562.1 L435.6,561.7 L436.6,561.3 L437.6,560.9 L438.7,560.4 L439.7,559.9 L440.8,559.4 L441.8,558.8 L442.8,558.2 L443.9,557.5 L445.0,556.8 L446.0,556.0 L447.1,555.3 L448.2,554.5 L449.2,553.6 L450.2,552.8 L451.2,551.9 L452.2,551.0 L453.2,550.1 L454.1,549.1 L455.0,548.2 L455.9,547.2 L456.8,546.1 L457.7,545.1 L458.5,544.0 L459.4,542.9 L460.1,541.7 L460.9,540.5 L461.6,539.3 L462.3,538.0 L463.0,536.7 L463.7,535.3 L464.3,533.9 L464.9,532.5 L465.5,531.1 L466.0,529.6 L466.5,528.2 L467.0,526.7 L467.4,525.2 L467.8,523.7 L468.2,522.1 L468.5,520.5 L468.8,518.9 L469.1,517.2 L469.3,515.6 L469.6,514.1 L469.8,512.5 L470.0,511.0 L470.2,509.5 L470.4,508.0 L470.6,506.6 L470.7,505.1 L470.9,503.7 L471.0,502.3 L471.1,500.9 L471.2,499.6 L471.3,498.3 L471.4,497.0 L471.5,495.8 L471.5,494.8 L471.6,493.8 L471.6,492.9 L471.7,492.0 L471.7,491.0 L471.7,490.0 L471.7,488.9 L471.7,487.7 L471.6,486.3 L471.5,484.7 L471.4,483.1 L471.3,481.3 L471.2,479.4 L471.1,477.4 L470.9,475.4 L470.8,473.4 L470.6,471.4 L470.4,469.4 L470.2,467.5 L470.0,465.6 L469.8,463.7 L469.5,461.8 L469.3,459.9 L469.0,458.0 L468.8,456.1 L468.5,454.2 L468.2,452.4 L467.9,450.5 L467.6,448.7 L467.3,446.9 L466.9,445.1 L466.6,443.3 L466.2,441.5 L465.9,439.7 L465.5,437.9 L465.1,436.2 L464.8,434.5 L464.5,432.9 L464.2,431.3 L463.9,429.8 L463.7,428.3 L463.5,426.8 L463.4,425.4 L463.2,424.0 L463.0,422.7 L462.9,421.4 L462.7,420.1 L462.5,418.9 L462.2,417.8 L461.9,416.7 L461.7,415.7 L461.4,414.7 L461.1,413.8 L460.8,412.9 L460.4,412.1 L460.1,411.3 L459.7,410.5 L459.3,409.8 L458.8,409.1 L458.3,408.5 L457.8,407.9 L457.2,407.3 L456.7,406.8 L456.1,406.3 L455.4,405.9 L454.8,405.5 L454.1,405.1 L453.5,404.7 L452.8,404.4 L452.1,404.1 L451.4,403.8 L450.7,403.6 L449.9,403.3 L449.2,403.2 L448.4,403.0 L447.7,402.9 L446.9,402.8 L446.1,402.8 L445.4,402.8 L444.6,402.9 L443.9,403.0 L443.1,403.1 L442.3,403.3 L441.5,403.5 L440.7,403.7 L440.0,404.0 L439.3,404.3 L438.6,404.7 L438.0,405.1 L437.5,405.5 L437.0,406.0 L436.5,406.5 L436.1,407.1 L435.7,407.7 L435.3,408.3 L435.0,409.0 L434.6,409.7 L434.3,410.4 L434.0,411.1 L433.7,411.9 L433.4,412.7 L433.1,413.5 L432.9,414.4 L432.6,415.3 L432.4,416.2 L432.2,417.1 L432.1,418.0 L432.0,419.0 L431.9,419.9 L431.9,420.9 L432.0,421.8 L432.1,422.8 L432.2,423.8 L432.4,424.8 L432.6,425.8 L432.8,426.9 L433.0,427.9 L433.2,428.9 L433.3,429.9 L433.4,430.9 L433.5,432.0 L433.7,433.1 L433.8,434.2 L433.9,435.3 L434.0,436.3 L434.1,437.4 L434.2,438.3 L434.3,439.2 L434.4,440.0 L434.5,440.7 L434.6,441.4 L434.6,442.0 L434.7,442.5 L434.8,443.0 L434.8,443.5 L434.9,443.9 L434.9,444.2 L435.0,444.5 L435.0,444.8 L436.4,442.6 L438.4,442.5 L439.6,445.8 L439.7,446.3 L439.8,446.9 L440.0,447.6 L440.2,448.4 L440.4,449.3 L440.6,450.2 L440.8,451.2 L441.0,452.1 L441.2,453.1 L441.3,454.1 L441.4,455.1 L441.5,456.1 L441.6,457.2 L441.7,458.2 L441.8,459.4 L441.9,460.5 L441.9,461.6 L442.0,462.7 L442.0,463.8 L442.0,464.9 L442.0,466.0 L442.0,467.1 L441.9,468.2 L441.8,469.3 L441.8,470.4 L441.7,471.5 L441.6,472.6 L441.5,473.6 L441.4,474.6 L441.3,475.6 L441.2,476.5 L441.1,477.4 L441.0,478.3 L440.9,479.1 L440.8,479.9 L440.7,480.7 L440.6,481.5 L440.4,482.2 L440.2,483.0 L440.0,483.7 L439.8,484.4 L439.5,485.2 L439.2,485.9 L438.9,486.6 L438.5,487.3 L438.2,487.9 L437.8,488.6 L437.4,489.2 L437.0,489.8 L436.6,490.4 L436.2,491.0 L435.7,491.5 L435.2,492.0 L434.7,492.5 L434.2,492.9 L433.7,493.4 L433.1,493.8 L432.5,494.3 L431.9,494.7 L431.3,495.1 L430.6,495.5 L429.8,495.9 L429.0,496.4 L428.1,496.8 L427.3,497.2 L426.4,497.6 L425.6,497.9 L424.9,498.2 L424.3,498.5 L423.9,498.7" stroke="#0000ff" stroke-width="1.1" fill="none"/>
<circle cx="416.5" cy="499.4" r="1.75" fill="#0000ff"/><circle cx="411.0" cy="499.4" r="1.75" fill="#0000ff"/><circle cx="405.4" cy="499.8" r="1.75" fill="#0000ff"/><circle cx="400.2" cy="501.4" r="1.75" fill="#0000ff"/><circle cx="395.3" cy="504.1" r="1.75" fill="#0000ff"/><circle cx="390.6" cy="507.1" r="1.75" fill="#0000ff"/><circle cx="386.2" cy="510.4" r="1.75" fill="#0000ff"/><circle cx="381.9" cy="514.0" r="1.75" fill="#0000ff"/><circle cx="377.7" cy="517.6" r="1.75" fill="#0000ff"/><circle cx="373.4" cy="521.1" r="1.75" fill="#0000ff"/><circle cx="369.1" cy="524.6" r="1.75" fill="#0000ff"/><circle cx="364.9" cy="528.2" r="1.75" fill="#0000ff"/><circle cx="360.6" cy="531.7" r="1.75" fill="#0000ff"/><circle cx="356.1" cy="534.9" r="1.75" fill="#0000ff"/><circle cx="351.2" cy="537.6" r="1.75" fill="#0000ff"/><circle cx="345.9" cy="539.2" r="1.75" fill="#0000ff"/><circle cx="340.4" cy="540.2" r="1.75" fill="#0000ff"/><circle cx="334.9" cy="540.6" r="1.75" fill="#0000ff"/><circle cx="329.4" cy="540.2" r="1.75" fill="#0000ff"/><circle cx="323.9" cy="539.2" r="1.75" fill="#0000ff"/><circle cx="318.5" cy="538.0" r="1.75" fill="#0000ff"/><circle cx="313.2" cy="536.3" r="1.75" fill="#0000ff"/><circle cx="308.1" cy="534.2" r="1.75" fill="#0000ff"/><circle cx="303.1" cy="531.8" r="1.75" fill="#0000ff"/><circle cx="298.2" cy="529.2" r="1.75" fill="#0000ff"/><circle cx="293.3" cy="526.5" r="1.75" fill="#0000ff"/><circle cx="288.6" cy="523.6" r="1.75" fill="#0000ff"/><circle cx="283.7" cy="521.0" r="1.75" fill="#0000ff"/><circle cx="278.6" cy="518.8" r="1.75" fill="#0000ff"/><circle cx="273.4" cy="517.0" r="1.75" fill="#0000ff"/><circle cx="267.9" cy="516.1" r="1.75" fill="#0000ff"/><circle cx="262.4" cy="516.7" r="1.75" fill="#0000ff"/><circle cx="257.1" cy="518.4" r="1.75" fill="#0000ff"/><circle cx="252.2" cy="520.9" r="1.75" fill="#0000ff"/><circle cx="247.8" cy="524.4" r="1.75" fill="#0000ff"/><circle cx="244.3" cy="528.6" r="1.75" fill="#0000ff"/><circle cx="241.6" cy="533.5" r="1.75" fill="#0000ff"/><circle cx="239.8" cy="538.7" r="1.75" fill="#0000ff"/><circle cx="238.8" cy="544.2" r="1.75" fill="#0000ff"/><circle cx="238.6" cy="549.7" r="1.75" fill="#0000ff"/><circle cx="239.3" cy="555.2" r="1.75" fill="#0000ff"/><circle cx="240.5" cy="560.6" r="1.75" fill="#0000ff"/><circle cx="242.2" cy="565.9" r="1.75" fill="#0000ff"/><circle cx="244.8" cy="570.8" r="1.75" fill="#0000ff"/><circle cx="248.2" cy="575.2" r="1.75" fill="#0000ff"/><circle cx="252.3" cy="578.9" r="1.75" fill="#0000ff"/><circle cx="257.5" cy="580.8" r="1.75" fill="#0000ff"/><circle cx="263.0" cy="581.1" r="1.75" fill="#0000ff"/><circle cx="268.6" cy="581.0" r="1.75" fill="#0000ff"/><circle cx="274.1" cy="580.7" r="1.75" fill="#0000ff"/><circle cx="279.6" cy="580.5" r="1.75" fill="#0000ff"/><circle cx="285.2" cy="580.2" r="1.75" fill="#0000ff"/><circle cx="290.7" cy="580.0" r="1.75" fill="#0000ff"/><circle cx="296.3" cy="579.8" r="1.75" fill="#0000ff"/><circle cx="301.8" cy="579.6" r="1.75" fill="#0000ff"/><circle cx="307.4" cy="579.4" r="1.75" fill="#0000ff"/><circle cx="312.9" cy="579.2" r="1.75" fill="#0000ff"/><circle cx="318.5" cy="579.0" r="1.75" fill="#0000ff"/><circle cx="324.0" cy="578.8" r="1.75" fill="#0000ff"/><circle cx="329.6" cy="578.5" r="1.75" fill="#0000ff"/><circle cx="335.1" cy="578.2" r="1.75" fill="#0000ff"/><circle cx="340.6" cy="577.9" r="1.75" fill="#0000ff"/><circle cx="346.2" cy="577.5" r="1.75" fill="#0000ff"/><circle cx="351.7" cy="577.1" r="1.75" fill="#0000ff"/><circle cx="357.2" cy="576.6" r="1.75" fill="#0000ff"/><circle cx="362.8" cy="576.1" r="1.75" fill="#0000ff"/><circle cx="368.3" cy="575.5" r="1.75" fill="#0000ff"/><circle cx="373.8" cy="574.9" r="1.75" fill="#0000ff"/><circle cx="379.3" cy="574.3" r="1.75" fill="#0000ff"/><circle cx="384.8" cy="573.6" r="1.75" fill="#0000ff"/><circle cx="390.3" cy="572.9" r="1.75" fill="#0000ff"/><circle cx="395.8" cy="572.1" r="1.75" fill="#0000ff"/><circle cx="401.3" cy="571.3" r="1.75" fill="#0000ff"/><circle cx="406.8" cy="570.4" r="1.75" fill="#0000ff"/><circle cx="412.3" cy="569.6" r="1.75" fill="#0000ff"/><circle cx="417.8" cy="568.8" r="1.75" fill="#0000ff"/><circle cx="423.1" cy="567.3" r="1.75" fill="#0000ff"/><circle cx="428.1" cy="564.9" r="1.75" fill="#0000ff"/><circle cx="433.2" cy="562.6" r="1.75" fill="#0000ff"/><circle cx="438.3" cy="560.6" r="1.75" fill="#0000ff"/><circle cx="443.2" cy="557.9" r="1.75" fill="#0000ff"/><circle cx="447.8" cy="554.8" r="1.75" fill="#0000ff"/><circle cx="452.0" cy="551.2" r="1.75" fill="#0000ff"/><circle cx="455.9" cy="547.2" r="1.75" fill="#0000ff"/><circle cx="459.3" cy="542.9" r="1.75" fill="#0000ff"/><circle cx="462.2" cy="538.1" r="1.75" fill="#0000ff"/><circle cx="464.6" cy="533.1" r="1.75" fill="#0000ff"/><circle cx="466.6" cy="528.0" r="1.75" fill="#0000ff"/><circle cx="468.1" cy="522.6" r="1.75" fill="#0000ff"/><circle cx="469.1" cy="517.1" r="1.75" fill="#0000ff"/><circle cx="469.9" cy="511.7" r="1.75" fill="#0000ff"/><circle cx="470.6" cy="506.2" r="1.75" fill="#0000ff"/><circle cx="471.1" cy="500.6" r="1.75" fill="#0000ff"/><circle cx="471.5" cy="495.1" r="1.75" fill="#0000ff"/><circle cx="471.7" cy="489.5" r="1.75" fill="#0000ff"/><circle cx="471.5" cy="484.0" r="1.75" fill="#0000ff"/><circle cx="471.1" cy="478.5" r="1.75" fill="#0000ff"/><circle cx="470.7" cy="472.9" r="1.75" fill="#0000ff"/><circle cx="470.2" cy="467.4" r="1.75" fill="#0000ff"/><circle cx="469.5" cy="461.9" r="1.75" fill="#0000ff"/><circle cx="468.8" cy="456.4" r="1.75" fill="#0000ff"/><circle cx="468.0" cy="450.9" r="1.75" fill="#0000ff"/><circle cx="467.0" cy="445.4" r="1.75" fill="#0000ff"/><circle cx="465.9" cy="440.0" r="1.75" fill="#0000ff"/><circle cx="464.8" cy="434.6" r="1.75" fill="#0000ff"/><circle cx="463.9" cy="429.1" r="1.75" fill="#0000ff"/><circle cx="463.1" cy="423.6" r="1.75" fill="#0000ff"/><circle cx="462.3" cy="418.1" r="1.75" fill="#0000ff"/><circle cx="460.7" cy="412.8" r="1.75" fill="#0000ff"/><circle cx="457.9" cy="408.0" r="1.75" fill="#0000ff"/><circle cx="453.5" cy="404.7" r="1.75" fill="#0000ff"/><circle cx="448.3" cy="403.0" r="1.75" fill="#0000ff"/><circle cx="442.7" cy="403.2" r="1.75" fill="#0000ff"/><circle cx="437.7" cy="405.3" r="1.75" fill="#0000ff"/><circle cx="434.5" cy="409.8" r="1.75" fill="#0000ff"/><circle cx="432.7" cy="415.1" r="1.75" fill="#0000ff"/><circle cx="431.9" cy="420.5" r="1.75" fill="#0000ff"/><circle cx="432.6" cy="426.0" r="1.75" fill="#0000ff"/><circle cx="433.5" cy="431.5" r="1.75" fill="#0000ff"/><circle cx="434.1" cy="437.0" r="1.75" fill="#0000ff"/><circle cx="434.7" cy="442.6" r="1.75" fill="#0000ff"/><circle cx="437.1" cy="442.6" r="1.75" fill="#0000ff"/><circle cx="439.8" cy="446.5" r="1.75" fill="#0000ff"/><circle cx="441.0" cy="451.9" r="1.75" fill="#0000ff"/><circle cx="441.6" cy="457.4" r="1.75" fill="#0000ff"/><circle cx="442.0" cy="463.0" r="1.75" fill="#0000ff"/><circle cx="441.9" cy="468.5" r="1.75" fill="#0000ff"/><circle cx="441.5" cy="474.0" r="1.75" fill="#0000ff"/><circle cx="440.9" cy="479.6" r="1.75" fill="#0000ff"/><circle cx="439.6" cy="484.9" r="1.75" fill="#0000ff"/><circle cx="437.0" cy="489.8" r="1.75" fill="#0000ff"/><circle cx="433.1" cy="493.8" r="1.75" fill="#0000ff"/><circle cx="428.4" cy="496.7" r="1.75" fill="#0000ff"/>
<path d="M409.3,499.5 H418.5" stroke="#e8121a" stroke-width="1.1"/>
<path d="M423.3,499.4 L411.2,493.8 L416.4,499.4 L412.3,505.1 Z" fill="none" stroke="#000" stroke-width="1.1" stroke-linejoin="miter"/>
</g>
<path d="M58.5,759v-5.5M58.5,205v5.5M110.5,759v-5.5M110.5,205v5.5M161.5,759v-5.5M161.5,205v5.5M213.5,759v-5.5M213.5,205v5.5M264.5,759v-5.5M264.5,205v5.5M316.5,759v-5.5M316.5,205v5.5M368.5,759v-5.5M368.5,205v5.5M419.5,759v-5.5M419.5,205v5.5M471.5,759v-5.5M471.5,205v5.5M522.5,759v-5.5M522.5,205v5.5M574.5,759v-5.5M574.5,205v5.5M50,757.5h5.5M605,757.5h-5.5M50,705.5h5.5M605,705.5h-5.5M50,654.5h5.5M605,654.5h-5.5M50,602.5h5.5M605,602.5h-5.5M50,550.5h5.5M605,550.5h-5.5M50,499.5h5.5M605,499.5h-5.5M50,447.5h5.5M605,447.5h-5.5M50,396.5h5.5M605,396.5h-5.5M50,344.5h5.5M605,344.5h-5.5M50,292.5h5.5M605,292.5h-5.5M50,241.5h5.5M605,241.5h-5.5" stroke="#262626" stroke-width="1" fill="none"/>
<rect x="50.5" y="205.5" width="555" height="554" fill="none" stroke="#262626" stroke-width="1"/>
<path d="M65.8,711.5 H104.8" stroke="#0000ff" stroke-width="1.1"/><circle cx="84.8" cy="711.5" r="1.7" fill="#0000ff"/>
<path d="M65.8,730.5 H104.8" stroke="#e8121a" stroke-width="1.1"/>
<circle cx="84.8" cy="748.7" r="1.7" fill="#ff00ff"/>
</svg>
<div class="t g" style="left:48.86px;top:767.72px;font-size:13.33px;letter-spacing:-0.4px;color:#262626"><span style="letter-spacing:0.5px">-</span>35</div>
<div class="t g" style="left:100.46px;top:767.72px;font-size:13.33px;letter-spacing:-0.4px;color:#262626"><span style="letter-spacing:0.5px">-</span>30</div>
<div class="t g" style="left:152.06px;top:767.72px;font-size:13.33px;letter-spacing:-0.4px;color:#262626"><span style="letter-spacing:0.5px">-</span>25</div>
<div class="t g" style="left:203.66px;top:767.72px;font-size:13.33px;letter-spacing:-0.4px;color:#262626"><span style="letter-spacing:0.5px">-</span>20</div>
<div class="t g" style="left:255.26px;top:767.72px;font-size:13.33px;letter-spacing:-0.4px;color:#262626"><span style="letter-spacing:0.5px">-</span>15</div>
<div class="t g" style="left:306.86px;top:767.72px;font-size:13.33px;letter-spacing:-0.4px;color:#262626"><span style="letter-spacing:0.5px">-</span>10</div>
<div class="t g" style="left:361.96px;top:767.72px;font-size:13.33px;letter-spacing:-0.4px;color:#262626"><span style="letter-spacing:0.5px">-</span>5</div>
<div class="t g" style="left:416.04px;top:767.72px;font-size:13.33px;letter-spacing:-0.4px;color:#262626">0</div>
<div class="t g" style="left:467.64px;top:767.72px;font-size:13.33px;letter-spacing:-0.4px;color:#262626">5</div>
<div class="t g" style="left:515.74px;top:767.72px;font-size:13.33px;letter-spacing:-0.4px;color:#262626">10</div>
<div class="t g" style="left:567.34px;top:767.72px;font-size:13.33px;letter-spacing:-0.4px;color:#262626">15</div>
<div class="t g" style="left:25.02px;top:751.82px;font-size:13.33px;letter-spacing:-0.4px;color:#262626"><span style="letter-spacing:0.5px">-</span>25</div>
<div class="t g" style="left:25.02px;top:700.62px;font-size:13.33px;letter-spacing:-0.4px;color:#262626"><span style="letter-spacing:0.5px">-</span>20</div>
<div class="t g" style="left:25.02px;top:649.62px;font-size:13.33px;letter-spacing:-0.4px;color:#262626"><span style="letter-spacing:0.5px">-</span>15</div>
<div class="t g" style="left:25.02px;top:597.62px;font-size:13.33px;letter-spacing:-0.4px;color:#262626"><span style="letter-spacing:0.5px">-</span>10</div>
<div class="t g" style="left:32.02px;top:545.62px;font-size:13.33px;letter-spacing:-0.4px;color:#262626"><span style="letter-spacing:0.5px">-</span>5</div>
<div class="t g" style="left:36.98px;top:494.62px;font-size:13.33px;letter-spacing:-0.4px;color:#262626">0</div>
<div class="t g" style="left:36.98px;top:442.62px;font-size:13.33px;letter-spacing:-0.4px;color:#262626">5</div>
<div class="t g" style="left:29.97px;top:391.62px;font-size:13.33px;letter-spacing:-0.4px;color:#262626">10</div>
<div class="t g" style="left:29.97px;top:339.62px;font-size:13.33px;letter-spacing:-0.4px;color:#262626">15</div>
<div class="t g" style="left:29.97px;top:287.62px;font-size:13.33px;letter-spacing:-0.4px;color:#262626">20</div>
<div class="t g" style="left:29.97px;top:236.62px;font-size:13.33px;letter-spacing:-0.4px;color:#262626">25</div>
<div class="t" style="left:322.71px;top:786.08px;font-size:14.67px;letter-spacing:0px;color:#262626;font-weight:400">X</div>
<div class="t" style="left:11.5px;top:482px;font-size:14.67px;color:#262626;transform:translate(-50%,-50%) rotate(-90deg);">Y</div>
<div class="t" style="left:108.20px;top:706.24px;font-size:12px;letter-spacing:0.037px;color:#1a1a1a;font-weight:400;">Robot Trajectory</div>
<div class="t" style="left:108.20px;top:725.04px;font-size:12px;letter-spacing:-0.008px;color:#1a1a1a;font-weight:400;">Loop Closure</div>
<div class="t" style="left:108.20px;top:744.14px;font-size:12px;letter-spacing:-0.115px;color:#1a1a1a;font-weight:400;">Scans</div>
<svg class="abs" style="left:0;top:0" width="1066" height="893" viewBox="0 0 1066 893">
<rect x="736" y="199" width="263" height="262" fill="#fff"/>
<path d="M758.5,199V461M813.5,199V461M868.5,199V461M922.5,199V461M977.5,199V461" stroke="#262626" stroke-opacity="0.15" stroke-width="1" fill="none"/><path d="M736,440.5H999M736,412.5H999M736,385.5H999M736,357.5H999M736,330.5H999M736,303.5H999M736,275.5H999M736,248.5H999M736,220.5H999" stroke="#262626" stroke-opacity="0.15" stroke-width="1" fill="none"/>
<g stroke="#0072bd" fill="none" stroke-linecap="round" stroke-linejoin="round"><circle cx="914.2" cy="254.3" r="1.38" fill="#0072bd" stroke="none"/><circle cx="903.5" cy="275.9" r="1.38" fill="#0072bd" stroke="none"/><circle cx="902.6" cy="261.3" r="1.00" fill="#0072bd" stroke="none"/><circle cx="778.0" cy="286.8" r="1.00" fill="#0072bd" stroke="none"/></g>
<g stroke="#dca11d" fill="none" stroke-linecap="round" stroke-linejoin="round"><circle cx="834.3" cy="234.3" r="1.75" fill="#dca11d" stroke="none"/><path d="M871.1,235.4 L873.5,236.9 L877.3,236.5" stroke-width="3.25"/><path d="M873.5,237.3 L872.6,241.0" stroke-width="3.25"/><path d="M902.2,237.3 L909.2,237.3" stroke-width="3.25"/><path d="M853.4,258.1 L855.7,260.0" stroke-width="3.25"/><path d="M836.9,268.4 L837.3,272.2" stroke-width="3.25"/><path d="M874.1,271.0 L874.8,276.3 L874.8,283.8" stroke-width="3.25"/><path d="M874.8,286.0 L880.1,287.2 L884.8,286.0" stroke-width="3.64"/><path d="M862.3,286.6 L867.3,286.2" stroke-width="3.25"/><path d="M903.0,255.3 L903.5,275.3" stroke-width="3.25"/><path d="M914.8,256.0 L916.7,260.3 L917.6,264.1 L916.3,268.4" stroke-width="3.25"/><path d="M903.0,286.0 L908.2,286.6 L915.7,285.7 L925.1,285.3" stroke-width="3.90"/><path d="M930.7,285.1 L934.9,285.1" stroke-width="3.25"/><path d="M918.2,290.9 L919.5,292.8" stroke-width="3.25"/><path d="M916.3,296.9 L916.3,305.4 L921.4,306.7 L936.4,306.3" stroke-width="3.64"/><path d="M946.7,306.7 L947.6,308.2" stroke-width="3.25"/><path d="M774.1,289.8 L776.9,287.9 L778.8,287.2" stroke-width="3.25"/><path d="M786.3,289.8 L791.9,289.8 L793.8,286.6 L793.8,282.9" stroke-width="3.64"/><path d="M804.1,288.5 L809.7,286.6" stroke-width="3.25"/><path d="M817.2,292.2 L822.9,291.3 L824.2,287.5 L824.2,283.8" stroke-width="3.64"/><path d="M830.4,289.4 L832.8,289.0" stroke-width="3.25"/><path d="M836.5,283.8 L836.5,286.0" stroke-width="3.25"/><path d="M854.4,328.8 L856.6,332.6 L860.4,333.5 L860.4,336.3" stroke-width="3.25"/><circle cx="867.9" cy="330.3" r="1.25" fill="#dca11d" stroke="none"/><path d="M874.4,330.7 L873.5,332.6 L875.4,334.4" stroke-width="3.64"/><circle cx="918.0" cy="356.6" r="1.56" fill="#dca11d" stroke="none"/><path d="M925.1,361.7 L924.7,363.5" stroke-width="3.25"/></g>
<path d="M758.5,461v-3.5M758.5,199v3.5M813.5,461v-3.5M813.5,199v3.5M868.5,461v-3.5M868.5,199v3.5M922.5,461v-3.5M922.5,199v3.5M977.5,461v-3.5M977.5,199v3.5M736,440.5h3.5M999,440.5h-3.5M736,412.5h3.5M999,412.5h-3.5M736,385.5h3.5M999,385.5h-3.5M736,357.5h3.5M999,357.5h-3.5M736,330.5h3.5M999,330.5h-3.5M736,303.5h3.5M999,303.5h-3.5M736,275.5h3.5M999,275.5h-3.5M736,248.5h3.5M999,248.5h-3.5M736,220.5h3.5M999,220.5h-3.5" stroke="#262626" stroke-width="1" fill="none"/>
<rect x="736.5" y="199.5" width="263" height="262" fill="none" stroke="#262626" stroke-width="1"/>
<circle cx="749" cy="433" r="1.8" fill="#0072bd"/><circle cx="749" cy="451" r="1.8" fill="#dca11d"/>
<rect x="736" y="558" width="263" height="262" fill="#fff"/>
<path d="M758.5,558V820M813.5,558V820M868.5,558V820M922.5,558V820M977.5,558V820" stroke="#262626" stroke-opacity="0.15" stroke-width="1" fill="none"/><path d="M736,799.5H999M736,771.5H999M736,744.5H999M736,716.5H999M736,689.5H999M736,662.5H999M736,634.5H999M736,607.5H999M736,579.5H999" stroke="#262626" stroke-opacity="0.15" stroke-width="1" fill="none"/>
<g stroke="#0072bd" fill="none" stroke-linecap="round" stroke-linejoin="round"><path d="M916.1,630.3 L916.7,632.2" stroke-width="3.25"/><circle cx="915.3" cy="637.2" r="1.38" fill="#0072bd" stroke="none"/><circle cx="915.3" cy="642.9" r="1.38" fill="#0072bd" stroke="none"/><circle cx="926.0" cy="644.2" r="1.56" fill="#0072bd" stroke="none"/><circle cx="934.9" cy="643.8" r="1.56" fill="#0072bd" stroke="none"/><path d="M911.0,648.5 L912.9,647.9" stroke-width="3.25"/><circle cx="905.4" cy="644.7" r="1.25" fill="#0072bd" stroke="none"/><circle cx="851.9" cy="690.7" r="1.56" fill="#0072bd" stroke="none"/><circle cx="867.9" cy="689.2" r="1.75" fill="#0072bd" stroke="none"/><circle cx="856.6" cy="695.4" r="1.56" fill="#0072bd" stroke="none"/><circle cx="814.8" cy="655.4" r="1.25" fill="#0072bd" stroke="none"/><path d="M949.1,694.8 L949.5,697.8" stroke-width="3.90"/><path d="M947.6,712.3 L951.4,710.8" stroke-width="3.90"/><circle cx="867.9" cy="595.9" r="1.12" fill="#0072bd" stroke="none"/><circle cx="874.8" cy="596.9" r="1.12" fill="#0072bd" stroke="none"/><circle cx="832.4" cy="595.8" r="1.12" fill="#0072bd" stroke="none"/><circle cx="900.7" cy="621.7" r="1.12" fill="#0072bd" stroke="none"/></g>
<g stroke="#dca11d" fill="none" stroke-linecap="round" stroke-linejoin="round"><path d="M830.9,596.9 L832.2,596.1" stroke-width="3.64"/><path d="M867.9,596.5 L870.7,597.8 L874.4,597.3" stroke-width="3.25"/><path d="M870.7,598.4 L869.8,602.1" stroke-width="3.25"/><path d="M899.2,597.3 L906.0,597.3" stroke-width="3.25"/><path d="M851.0,619.8 L853.2,622.2" stroke-width="3.25"/><path d="M835.4,630.3 L835.6,634.4" stroke-width="3.25"/><path d="M872.2,632.2 L872.9,638.2 L872.9,644.7" stroke-width="3.25"/><path d="M872.9,647.2 L878.2,648.5 L882.9,647.5" stroke-width="3.64"/><path d="M860.9,648.5 L865.4,647.9" stroke-width="3.25"/><path d="M899.8,615.3 L900.7,626.9 L901.7,635.3" stroke-width="3.25"/><path d="M912.0,615.3 L914.2,619.4 L915.0,625.0 L914.2,629.2" stroke-width="3.25"/><path d="M901.7,646.0 L908.2,646.6 L915.7,645.3 L923.2,644.2" stroke-width="3.90"/><path d="M929.8,644.2 L934.5,643.8" stroke-width="3.25"/><path d="M918.5,650.4 L919.1,653.2" stroke-width="3.64"/><path d="M915.7,656.9 L915.7,664.4 L921.4,665.9 L936.0,665.0" stroke-width="3.64"/><path d="M946.7,665.4 L946.7,667.2" stroke-width="3.25"/><path d="M772.8,654.1 L775.9,652.2 L777.8,651.7" stroke-width="3.25"/><path d="M785.3,654.1 L790.4,653.5 L792.3,650.4 L792.3,646.0" stroke-width="3.64"/><path d="M802.8,652.2 L808.4,650.5" stroke-width="3.25"/><path d="M816.3,656.0 L821.5,654.7 L822.7,650.9 L822.7,646.6" stroke-width="3.64"/><path d="M829.0,652.2 L831.7,651.7" stroke-width="3.25"/><path d="M835.6,645.7 L835.6,649.0" stroke-width="3.25"/><path d="M854.4,690.7 L856.6,694.1 L860.9,694.8 L861.3,697.8" stroke-width="3.25"/><circle cx="868.3" cy="691.6" r="1.56" fill="#dca11d" stroke="none"/><path d="M875.4,691.6 L874.1,693.5 L875.9,695.4" stroke-width="3.64"/><circle cx="919.1" cy="715.5" r="1.75" fill="#dca11d" stroke="none"/><path d="M926.6,720.7 L926.6,722.6" stroke-width="3.25"/></g>
<path d="M758.5,820v-3.5M758.5,558v3.5M813.5,820v-3.5M813.5,558v3.5M868.5,820v-3.5M868.5,558v3.5M922.5,820v-3.5M922.5,558v3.5M977.5,820v-3.5M977.5,558v3.5M736,799.5h3.5M999,799.5h-3.5M736,771.5h3.5M999,771.5h-3.5M736,744.5h3.5M999,744.5h-3.5M736,716.5h3.5M999,716.5h-3.5M736,689.5h3.5M999,689.5h-3.5M736,662.5h3.5M999,662.5h-3.5M736,634.5h3.5M999,634.5h-3.5M736,607.5h3.5M999,607.5h-3.5M736,579.5h3.5M999,579.5h-3.5" stroke="#262626" stroke-width="1" fill="none"/>
<rect x="736.5" y="558.5" width="263" height="262" fill="none" stroke="#262626" stroke-width="1"/>
<circle cx="749" cy="792" r="1.8" fill="#0072bd"/><circle cx="749" cy="810" r="1.8" fill="#dca11d"/>
<defs><linearGradient id="arg" x1="0" y1="0" x2="0.4" y2="1"><stop offset="0" stop-color="#e3f0fa"/><stop offset="0.45" stop-color="#a9cde9"/><stop offset="1" stop-color="#5a9bd4"/></linearGradient>
<g id="btn"><rect x="0.6" y="0.6" width="22.8" height="22.8" fill="#ededed" stroke="#000" stroke-width="1.3"/><rect x="1.8" y="1.8" width="20.4" height="20.4" fill="none" stroke="#b0b0b0" stroke-width="0.8"/></g>
<path id="al" d="M3.4,11.6 L12.4,5.2 V9.1 H18.8 V14.4 H12.4 V18.3 Z" fill="url(#arg)" stroke="#2d62a3" stroke-width="0.9" stroke-linejoin="round"/>
<path id="ar" d="M20.6,11.9 L11.6,5.5 V9.4 H5.2 V14.7 H11.6 V18.6 Z" fill="url(#arg)" stroke="#2d62a3" stroke-width="0.9" stroke-linejoin="round"/>
</defs>
<g transform="translate(1007,557)"><use href="#btn"/><use href="#al"/></g>
<g transform="translate(1007,586)"><use href="#btn"/><use href="#ar"/></g>
<g transform="translate(14,830)"><use href="#btn"/><use href="#al"/></g>
<g transform="translate(43,830)"><use href="#btn"/><use href="#ar"/></g>
<rect x="4" y="804" width="650" height="1" fill="#c4c4c4"/>
<rect x="14.5" y="809.5" width="632" height="9" fill="#f3f3f3" stroke="#c2c2c2" stroke-width="1"/>
<rect x="639.5" y="807.5" width="9" height="13" fill="#8fc68f" stroke="#2f4f2f" stroke-width="1"/>
<rect x="77.5" y="830.5" width="79" height="23" fill="#fff" stroke="#b0b0b0" stroke-width="1"/>
<rect x="172.5" y="830.5" width="79" height="23" fill="#f0f0f0" stroke="#b0b0b0" stroke-width="1"/>
<path d="M161.6,850 L166.6,835.6" stroke="#111" stroke-width="1.5"/>
</svg>
<div class="t g" style="left:751.19px;top:469.72px;font-size:13.33px;letter-spacing:-0.4px;color:#262626">20</div>
<div class="t g" style="left:805.99px;top:469.72px;font-size:13.33px;letter-spacing:-0.4px;color:#262626">10</div>
<div class="t g" style="left:864.29px;top:469.72px;font-size:13.33px;letter-spacing:-0.4px;color:#262626">0</div>
<div class="t g" style="left:913.11px;top:469.72px;font-size:13.33px;letter-spacing:-0.4px;color:#262626"><span style="letter-spacing:0.5px">-</span>10</div>
<div class="t g" style="left:967.91px;top:469.72px;font-size:13.33px;letter-spacing:-0.4px;color:#262626"><span style="letter-spacing:0.5px">-</span>20</div>
<div class="t g" style="left:710.62px;top:434.82px;font-size:13.33px;letter-spacing:-0.4px;color:#262626"><span style="letter-spacing:0.5px">-</span>20</div>
<div class="t g" style="left:710.62px;top:407.62px;font-size:13.33px;letter-spacing:-0.4px;color:#262626"><span style="letter-spacing:0.5px">-</span>15</div>
<div class="t g" style="left:710.62px;top:380.62px;font-size:13.33px;letter-spacing:-0.4px;color:#262626"><span style="letter-spacing:0.5px">-</span>10</div>
<div class="t g" style="left:717.62px;top:352.62px;font-size:13.33px;letter-spacing:-0.4px;color:#262626"><span style="letter-spacing:0.5px">-</span>5</div>
<div class="t g" style="left:722.58px;top:325.62px;font-size:13.33px;letter-spacing:-0.4px;color:#262626">0</div>
<div class="t g" style="left:722.58px;top:298.62px;font-size:13.33px;letter-spacing:-0.4px;color:#262626">5</div>
<div class="t g" style="left:715.57px;top:270.62px;font-size:13.33px;letter-spacing:-0.4px;color:#262626">10</div>
<div class="t g" style="left:715.57px;top:243.62px;font-size:13.33px;letter-spacing:-0.4px;color:#262626">15</div>
<div class="t g" style="left:715.57px;top:215.62px;font-size:13.33px;letter-spacing:-0.4px;color:#262626">20</div>
<div class="t" style="left:772.00px;top:428.24px;font-size:12px;letter-spacing:0px;color:#1a1a1a">Scan 162</div>
<div class="t" style="left:772.00px;top:446.24px;font-size:12px;letter-spacing:0px;color:#1a1a1a">Scan 163</div>
<div class="t" style="left:863.11px;top:488.08px;font-size:14.67px;letter-spacing:0px;color:#262626;font-weight:400">Y</div>
<div class="t" style="left:697.5px;top:329.5px;font-size:14.67px;color:#262626;transform:translate(-50%,-50%) rotate(-90deg);">X</div>
<div class="t g" style="left:751.19px;top:828.72px;font-size:13.33px;letter-spacing:-0.4px;color:#262626">20</div>
<div class="t g" style="left:805.99px;top:828.72px;font-size:13.33px;letter-spacing:-0.4px;color:#262626">10</div>
<div class="t g" style="left:864.29px;top:828.72px;font-size:13.33px;letter-spacing:-0.4px;color:#262626">0</div>
<div class="t g" style="left:913.11px;top:828.72px;font-size:13.33px;letter-spacing:-0.4px;color:#262626"><span style="letter-spacing:0.5px">-</span>10</div>
<div class="t g" style="left:967.91px;top:828.72px;font-size:13.33px;letter-spacing:-0.4px;color:#262626"><span style="letter-spacing:0.5px">-</span>20</div>
<div class="t g" style="left:710.62px;top:793.82px;font-size:13.33px;letter-spacing:-0.4px;color:#262626"><span style="letter-spacing:0.5px">-</span>20</div>
<div class="t g" style="left:710.62px;top:766.62px;font-size:13.33px;letter-spacing:-0.4px;color:#262626"><span style="letter-spacing:0.5px">-</span>15</div>
<div class="t g" style="left:710.62px;top:739.62px;font-size:13.33px;letter-spacing:-0.4px;color:#262626"><span style="letter-spacing:0.5px">-</span>10</div>
<div class="t g" style="left:717.62px;top:711.62px;font-size:13.33px;letter-spacing:-0.4px;color:#262626"><span style="letter-spacing:0.5px">-</span>5</div>
<div class="t g" style="left:722.58px;top:684.62px;font-size:13.33px;letter-spacing:-0.4px;color:#262626">0</div>
<div class="t g" style="left:722.58px;top:657.62px;font-size:13.33px;letter-spacing:-0.4px;color:#262626">5</div>
<div class="t g" style="left:715.57px;top:629.62px;font-size:13.33px;letter-spacing:-0.4px;color:#262626">10</div>
<div class="t g" style="left:715.57px;top:602.62px;font-size:13.33px;letter-spacing:-0.4px;color:#262626">15</div>
<div class="t g" style="left:715.57px;top:574.62px;font-size:13.33px;letter-spacing:-0.4px;color:#262626">20</div>
<div class="t" style="left:772.00px;top:787.24px;font-size:12px;letter-spacing:0px;color:#1a1a1a">Scan 4</div>
<div class="t" style="left:772.00px;top:805.24px;font-size:12px;letter-spacing:0px;color:#1a1a1a">Scan 163</div>
<div class="t" style="left:863.11px;top:847.08px;font-size:14.67px;letter-spacing:0px;color:#262626;font-weight:400">Y</div>
<div class="t" style="left:697.5px;top:688.5px;font-size:14.67px;color:#262626;transform:translate(-50%,-50%) rotate(-90deg);">X</div>
<div class="t" style="left:107.16px;top:836.72px;font-size:11.2px;letter-spacing:0px;color:#000;font-weight:400">163</div>
<div class="t" style="left:201.96px;top:836.72px;font-size:11.2px;letter-spacing:0px;color:#7a7a7a;font-weight:400">163</div>
</body></html>
